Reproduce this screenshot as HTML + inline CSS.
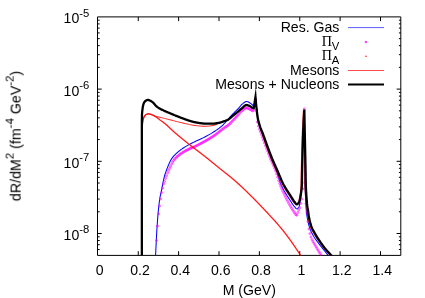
<!DOCTYPE html>
<html><head><meta charset="utf-8"><title>plot</title>
<style>
html,body{margin:0;padding:0;background:#fff;}
body{width:425px;height:298px;overflow:hidden;font-family:"Liberation Sans",sans-serif;}
svg{display:block;}
</style></head><body>
<svg width="425" height="298" viewBox="0 0 425 298">
<rect width="425" height="298" fill="#fff"/>
<defs><clipPath id="c"><rect x="97.5" y="16.9" width="303.3" height="238.5"/></clipPath><filter id="gs" filterUnits="userSpaceOnUse" x="0" y="0" width="425" height="298" color-interpolation-filters="sRGB"><feColorMatrix type="saturate" values="0"/></filter></defs>
<path d="M97.5,16.9 H400.8 V255.4 H97.5 Z" fill="none" stroke="#000" stroke-width="1"/>
<path d="M138.25,255.4 v-4.2 M138.25,16.9 v4.2 M178.62,255.4 v-4.2 M178.62,16.9 v4.2 M219.00,255.4 v-4.2 M219.00,16.9 v4.2 M259.38,255.4 v-4.2 M259.38,16.9 v4.2 M299.75,255.4 v-4.2 M299.75,16.9 v4.2 M340.12,255.4 v-4.2 M340.12,16.9 v4.2 M380.50,255.4 v-4.2 M380.50,16.9 v4.2 M97.5,67.37 h2.2 M400.8,67.37 h-1.9 M97.5,54.65 h2.2 M400.8,54.65 h-1.9 M97.5,45.63 h2.2 M400.8,45.63 h-1.9 M97.5,38.63 h2.2 M400.8,38.63 h-1.9 M97.5,32.92 h2.2 M400.8,32.92 h-1.9 M97.5,28.08 h2.2 M400.8,28.08 h-1.9 M97.5,23.90 h2.2 M400.8,23.90 h-1.9 M97.5,20.20 h2.2 M400.8,20.20 h-1.9 M97.5,89.10 h4.2 M400.8,89.10 h-4.2 M97.5,139.57 h2.2 M400.8,139.57 h-1.9 M97.5,126.85 h2.2 M400.8,126.85 h-1.9 M97.5,117.83 h2.2 M400.8,117.83 h-1.9 M97.5,110.83 h2.2 M400.8,110.83 h-1.9 M97.5,105.12 h2.2 M400.8,105.12 h-1.9 M97.5,100.28 h2.2 M400.8,100.28 h-1.9 M97.5,96.10 h2.2 M400.8,96.10 h-1.9 M97.5,92.40 h2.2 M400.8,92.40 h-1.9 M97.5,161.30 h4.2 M400.8,161.30 h-4.2 M97.5,211.77 h2.2 M400.8,211.77 h-1.9 M97.5,199.05 h2.2 M400.8,199.05 h-1.9 M97.5,190.03 h2.2 M400.8,190.03 h-1.9 M97.5,183.03 h2.2 M400.8,183.03 h-1.9 M97.5,177.32 h2.2 M400.8,177.32 h-1.9 M97.5,172.48 h2.2 M400.8,172.48 h-1.9 M97.5,168.30 h2.2 M400.8,168.30 h-1.9 M97.5,164.60 h2.2 M400.8,164.60 h-1.9 M97.5,233.50 h4.2 M400.8,233.50 h-4.2 M97.5,249.52 h2.2 M400.8,249.52 h-1.9 M97.5,244.68 h2.2 M400.8,244.68 h-1.9 M97.5,240.50 h2.2 M400.8,240.50 h-1.9 M97.5,236.80 h2.2 M400.8,236.80 h-1.9" fill="none" stroke="#000" stroke-width="1"/>
<g clip-path="url(#c)"><path d="M155.50,257.00 L155.52,256.50 L155.55,256.00 L155.57,255.50 L155.60,255.00 L155.63,254.50 L155.65,253.99 L155.68,253.49 L155.70,252.99 L155.72,252.49 L155.75,251.99 L155.77,251.49 L155.80,250.99 L155.82,250.49 L155.85,249.99 L155.87,249.49 L155.89,248.98 L155.92,248.48 L155.94,247.98 L155.96,247.48 L155.99,246.98 L156.01,246.48 L156.03,245.98 L156.06,245.48 L156.08,244.98 L156.10,244.48 L156.13,243.97 L156.15,243.47 L156.18,242.97 L156.20,242.47 L156.22,241.97 L156.25,241.47 L156.27,240.97 L156.30,240.47 L156.32,239.97 L156.35,239.46 L156.37,238.96 L156.40,238.46 L156.42,237.96 L156.45,237.46 L156.47,236.96 L156.50,236.46 L156.52,235.96 L156.55,235.46 L156.58,234.96 L156.60,234.46 L156.63,233.96 L156.66,233.45 L156.69,232.95 L156.72,232.45 L156.74,231.95 L156.77,231.45 L156.80,230.95 L156.83,230.45 L156.86,229.95 L156.89,229.45 L156.93,228.95 L156.96,228.45 L156.99,227.95 L157.02,227.45 L157.06,226.95 L157.09,226.45 L157.12,225.95 L157.16,225.45 L157.19,224.95 L157.23,224.45 L157.26,223.95 L157.30,223.45 L157.33,222.95 L157.37,222.45 L157.41,221.95 L157.44,221.45 L157.48,220.94 L157.52,220.44 L157.55,219.94 L157.59,219.44 L157.63,218.94 L157.67,218.44 L157.71,217.94 L157.75,217.44 L157.79,216.94 L157.83,216.43 L157.87,215.93 L157.91,215.43 L157.96,214.93 L158.00,214.43 L158.04,213.93 L158.09,213.43 L158.13,212.93 L158.18,212.43 L158.22,211.93 L158.27,211.43 L158.32,210.93 L158.37,210.43 L158.42,209.93 L158.47,209.43 L158.52,208.93 L158.57,208.43 L158.62,207.93 L158.67,207.43 L158.73,206.93 L158.78,206.43 L158.84,205.94 L158.90,205.44 L158.95,204.94 L159.01,204.44 L159.07,203.94 L159.13,203.45 L159.19,202.95 L159.26,202.45 L159.32,201.96 L159.38,201.46 L159.45,200.97 L159.52,200.47 L159.59,199.98 L159.66,199.48 L159.73,198.99 L159.80,198.49 L159.87,198.00 L159.95,197.51 L160.03,197.01 L160.13,196.52 L160.24,196.03 L160.35,195.55 L160.47,195.06 L160.59,194.57 L160.71,194.08 L160.83,193.59 L160.94,193.10 L161.05,192.61 L161.16,192.12 L161.26,191.63 L161.36,191.14 L161.46,190.65 L161.56,190.16 L161.66,189.66 L161.75,189.17 L161.85,188.68 L161.94,188.18 L162.04,187.69 L162.13,187.19 L162.22,186.70 L162.31,186.20 L162.40,185.71 L162.50,185.22 L162.59,184.72 L162.68,184.23 L162.78,183.73 L162.87,183.24 L162.97,182.75 L163.06,182.26 L163.16,181.76 L163.26,181.27 L163.37,180.78 L163.47,180.29 L163.58,179.80 L163.69,179.31 L163.80,178.83 L163.91,178.34 L164.03,177.85 L164.15,177.37 L164.27,176.89 L164.40,176.41 L164.53,175.92 L164.67,175.44 L164.81,174.96 L164.96,174.49 L165.11,174.01 L165.26,173.53 L165.42,173.05 L165.59,172.58 L165.76,172.10 L165.93,171.63 L166.10,171.16 L166.28,170.69 L166.45,170.22 L166.63,169.75 L166.82,169.28 L167.00,168.81 L167.18,168.35 L167.37,167.88 L167.55,167.42 L167.74,166.95 L167.93,166.48 L168.11,166.01 L168.30,165.54 L168.50,165.06 L168.69,164.59 L168.89,164.12 L169.09,163.65 L169.29,163.19 L169.50,162.72 L169.71,162.27 L169.93,161.81 L170.15,161.36 L170.38,160.91 L170.61,160.47 L170.85,160.04 L171.09,159.62 L171.35,159.20 L171.61,158.79 L171.88,158.39 L172.16,157.99 L172.45,157.59 L172.76,157.20 L173.08,156.81 L173.40,156.43 L173.74,156.05 L174.08,155.68 L174.43,155.31 L174.78,154.94 L175.15,154.58 L175.51,154.22 L175.88,153.87 L176.26,153.52 L176.63,153.17 L177.01,152.84 L177.39,152.50 L177.76,152.17 L178.14,151.85 L178.52,151.53 L178.90,151.22 L179.29,150.91 L179.68,150.60 L180.07,150.30 L180.47,150.00 L180.88,149.70 L181.29,149.41 L181.70,149.12 L182.11,148.83 L182.53,148.55 L182.95,148.27 L183.38,147.99 L183.80,147.72 L184.23,147.44 L184.66,147.17 L185.08,146.91 L185.51,146.64 L185.95,146.38 L186.38,146.12 L186.81,145.87 L187.24,145.61 L187.67,145.36 L188.10,145.11 L188.54,144.87 L188.98,144.62 L189.42,144.39 L189.86,144.15 L190.30,143.92 L190.75,143.69 L191.20,143.46 L191.65,143.24 L192.10,143.01 L192.55,142.79 L193.00,142.57 L193.45,142.35 L193.90,142.13 L194.35,141.91 L194.81,141.69 L195.26,141.47 L195.71,141.25 L196.16,141.03 L196.61,140.82 L197.07,140.61 L197.52,140.40 L197.98,140.19 L198.44,139.98 L198.89,139.77 L199.35,139.57 L199.81,139.36 L200.27,139.15 L200.72,138.95 L201.18,138.74 L201.64,138.53 L202.09,138.32 L202.55,138.11 L203.00,137.89 L203.45,137.68 L203.90,137.45 L204.35,137.23 L204.79,137.00 L205.24,136.77 L205.68,136.54 L206.13,136.31 L206.57,136.07 L207.01,135.83 L207.45,135.59 L207.89,135.35 L208.33,135.11 L208.77,134.86 L209.21,134.62 L209.65,134.37 L210.08,134.12 L210.51,133.86 L210.95,133.61 L211.38,133.35 L211.81,133.09 L212.24,132.83 L212.66,132.57 L213.09,132.31 L213.51,132.04 L213.94,131.77 L214.35,131.50 L214.77,131.23 L215.19,130.95 L215.61,130.68 L216.03,130.40 L216.45,130.12 L216.87,129.83 L217.28,129.54 L217.69,129.26 L218.10,128.96 L218.51,128.67 L218.92,128.37 L219.32,128.07 L219.72,127.76 L220.11,127.45 L220.50,127.14 L220.89,126.82 L221.27,126.50 L221.64,126.18 L222.01,125.84 L222.38,125.50 L222.73,125.14 L223.09,124.79 L223.44,124.42 L223.78,124.06 L224.13,123.69 L224.47,123.33 L224.81,122.95 L225.14,122.58 L225.46,122.20 L225.79,121.82 L226.11,121.43 L226.43,121.05 L226.75,120.66 L227.07,120.27 L227.40,119.89 L227.73,119.51 L228.06,119.14 L228.39,118.76 L228.73,118.39 L229.06,118.02 L229.40,117.64 L229.74,117.27 L230.08,116.90 L230.42,116.54 L230.76,116.17 L231.10,115.80 L231.44,115.44 L231.79,115.07 L232.13,114.71 L232.48,114.34 L232.83,113.98 L233.17,113.62 L233.52,113.26 L233.88,112.91 L234.23,112.55 L234.59,112.20 L234.94,111.85 L235.30,111.49 L235.66,111.14 L236.02,110.79 L236.38,110.44 L236.74,110.09 L237.09,109.74 L237.45,109.38 L237.80,109.03 L238.15,108.67 L238.50,108.30 L238.84,107.94 L239.17,107.55 L239.50,107.17 L239.82,106.77 L240.14,106.38 L240.47,105.99 L240.79,105.60 L241.13,105.22 L241.47,104.86 L241.81,104.50 L242.18,104.17 L242.55,103.86 L242.94,103.54 L243.35,103.20 L243.77,102.85 L244.20,102.51 L244.63,102.20 L245.08,101.93 L245.53,101.71 L245.98,101.57 L246.42,101.50 L246.88,101.53 L247.34,101.64 L247.82,101.81 L248.29,102.02 L248.77,102.27 L249.23,102.54 L249.67,102.81 L250.10,103.06 L250.51,103.33 L250.92,103.62 L251.32,103.93 L251.71,104.27 L252.09,104.61 L252.45,104.98 L252.78,105.34 L253.10,105.72 L253.39,106.13 L253.65,106.55 L253.90,107.00 L255.50,97.50 L255.54,98.00 L255.58,98.50 L255.63,99.00 L255.67,99.50 L255.72,100.00 L255.76,100.50 L255.81,101.00 L255.86,101.50 L255.91,102.00 L255.96,102.50 L256.01,103.00 L256.06,103.50 L256.12,104.00 L256.17,104.50 L256.22,105.00 L256.28,105.50 L256.34,105.99 L256.39,106.49 L256.45,106.99 L256.51,107.49 L256.57,107.99 L256.63,108.49 L256.69,108.98 L256.75,109.48 L256.81,109.98 L256.87,110.48 L256.93,110.98 L257.00,111.47 L257.06,111.97 L257.12,112.47 L257.19,112.97 L257.25,113.47 L257.32,113.97 L257.39,114.47 L257.46,114.96 L257.54,115.46 L257.61,115.96 L257.69,116.45 L257.78,116.95 L257.86,117.44 L257.95,117.93 L258.04,118.42 L258.14,118.91 L258.25,119.40 L258.36,119.89 L258.48,120.37 L258.61,120.86 L258.74,121.34 L258.87,121.83 L259.01,122.31 L259.15,122.80 L259.29,123.28 L259.44,123.76 L259.58,124.24 L259.72,124.73 L259.87,125.21 L260.01,125.69 L260.15,126.17 L260.29,126.66 L260.42,127.14 L260.56,127.62 L260.70,128.11 L260.84,128.59 L260.97,129.07 L261.11,129.55 L261.25,130.04 L261.39,130.52 L261.53,131.00 L261.68,131.48 L261.82,131.96 L261.96,132.44 L262.11,132.92 L262.26,133.40 L262.41,133.88 L262.56,134.36 L262.71,134.84 L262.86,135.32 L263.02,135.79 L263.18,136.27 L263.33,136.75 L263.49,137.22 L263.66,137.70 L263.82,138.17 L263.98,138.65 L264.15,139.12 L264.31,139.59 L264.48,140.07 L264.65,140.54 L264.81,141.01 L264.98,141.49 L265.15,141.96 L265.32,142.43 L265.49,142.91 L265.66,143.38 L265.83,143.85 L266.00,144.32 L266.17,144.80 L266.34,145.27 L266.51,145.74 L266.68,146.21 L266.84,146.69 L267.01,147.16 L267.18,147.63 L267.35,148.10 L267.52,148.58 L267.69,149.05 L267.86,149.52 L268.03,150.00 L268.20,150.47 L268.37,150.94 L268.54,151.41 L268.71,151.88 L268.88,152.36 L269.05,152.83 L269.23,153.30 L269.40,153.77 L269.57,154.24 L269.75,154.71 L269.93,155.18 L270.10,155.65 L270.28,156.12 L270.46,156.59 L270.64,157.06 L270.82,157.53 L271.00,157.99 L271.18,158.46 L271.37,158.93 L271.55,159.39 L271.74,159.86 L271.93,160.32 L272.13,160.79 L272.32,161.25 L272.52,161.71 L272.71,162.17 L272.91,162.64 L273.11,163.10 L273.30,163.56 L273.50,164.02 L273.70,164.48 L273.90,164.94 L274.10,165.41 L274.29,165.87 L274.49,166.33 L274.68,166.79 L274.88,167.26 L275.07,167.72 L275.26,168.18 L275.45,168.65 L275.64,169.11 L275.83,169.58 L276.01,170.05 L276.19,170.51 L276.37,170.98 L276.54,171.45 L276.72,171.92 L276.88,172.40 L277.05,172.87 L277.21,173.35 L277.37,173.83 L277.53,174.31 L277.69,174.79 L277.84,175.27 L278.00,175.75 L278.15,176.23 L278.31,176.71 L278.46,177.19 L278.61,177.67 L278.77,178.15 L278.92,178.63 L279.08,179.11 L279.23,179.59 L279.39,180.07 L279.55,180.54 L279.71,181.02 L279.88,181.49 L280.04,181.97 L280.21,182.44 L280.39,182.90 L280.57,183.37 L280.75,183.83 L280.93,184.29 L281.12,184.75 L281.32,185.21 L281.52,185.66 L281.72,186.11 L281.93,186.56 L282.14,187.01 L282.36,187.46 L282.58,187.91 L282.81,188.35 L283.04,188.79 L283.27,189.24 L283.51,189.68 L283.75,190.12 L283.99,190.56 L284.24,190.99 L284.49,191.43 L284.74,191.87 L285.00,192.30 L285.26,192.73 L285.52,193.17 L285.78,193.60 L286.04,194.03 L286.31,194.46 L286.58,194.89 L286.84,195.32 L287.12,195.74 L287.39,196.17 L287.66,196.60 L287.93,197.02 L288.21,197.45 L288.48,197.87 L288.76,198.29 L289.04,198.71 L289.31,199.14 L289.59,199.56 L289.87,199.98 L290.14,200.40 L290.42,200.82 L290.69,201.24 L290.97,201.66 L291.24,202.08 L291.52,202.50 L291.79,202.92 L292.07,203.34 L292.35,203.76 L292.64,204.18 L292.93,204.59 L293.22,205.00 L293.52,205.40 L293.83,205.80 L294.14,206.18 L294.47,206.56 L294.80,206.96 L295.15,207.42 L295.52,207.88 L295.89,208.30 L296.26,208.64 L296.63,208.85 L297.00,208.89 L297.41,208.73 L297.83,208.41 L298.24,207.99 L298.60,207.53 L298.86,207.09 L299.03,206.69 L299.18,206.26 L299.31,205.81 L299.44,205.34 L299.55,204.86 L299.65,204.36 L299.75,203.85 L299.84,203.33 L299.92,202.81 L299.99,202.29 L300.06,201.76 L300.13,201.24 L300.20,200.73 L300.27,200.22 L300.34,199.73 L300.41,199.23 L300.48,198.73 L300.54,198.24 L300.61,197.74 L300.68,197.24 L300.75,196.75 L300.81,196.25 L300.88,195.75 L300.94,195.25 L301.00,194.75 L301.06,194.25 L301.12,193.75 L301.18,193.25 L301.24,192.75 L301.30,192.25 L301.35,191.75 L301.40,191.25 L301.45,190.75 L301.50,190.25 L301.55,189.75 L301.59,189.25 L301.63,188.75 L301.67,188.25 L301.71,187.75 L301.75,187.25 L301.78,186.75 L301.81,186.24 L301.83,185.74 L301.86,185.24 L301.88,184.74 L301.89,184.24 L301.91,183.74 L301.92,183.24 L301.93,182.74 L301.94,182.24 L301.95,181.74 L301.96,181.23 L301.97,180.73 L301.98,180.23 L301.99,179.73 L301.99,179.23 L302.00,178.72 L302.01,178.22 L302.02,177.72 L302.02,177.22 L302.03,176.72 L302.03,176.21 L302.04,175.71 L302.05,175.21 L302.05,174.71 L302.06,174.20 L302.07,173.70 L302.08,173.20 L302.09,172.70 L302.10,172.20 L302.11,171.69 L302.12,171.19 L302.13,170.69 L302.14,170.19 L302.15,169.69 L302.16,169.19 L302.17,168.68 L302.18,168.18 L302.19,167.68 L302.20,167.18 L302.21,166.68 L302.22,166.17 L302.23,165.67 L302.24,165.17 L302.26,164.67 L302.27,164.17 L302.28,163.67 L302.29,163.16 L302.30,162.66 L302.31,162.16 L302.33,161.66 L302.34,161.16 L302.35,160.65 L302.36,160.15 L302.37,159.65 L302.39,159.15 L302.40,158.65 L302.41,158.14 L302.42,157.64 L302.44,157.14 L302.45,156.64 L302.46,156.14 L302.48,155.64 L302.49,155.13 L302.50,154.63 L302.52,154.13 L302.53,153.63 L302.54,153.13 L302.56,152.63 L302.57,152.12 L302.58,151.62 L302.60,151.12 L302.61,150.62 L302.63,150.12 L302.64,149.61 L302.65,149.11 L302.67,148.61 L302.68,148.11 L302.70,147.61 L302.71,147.11 L302.73,146.60 L302.74,146.10 L302.76,145.60 L302.77,145.10 L302.79,144.60 L302.80,144.10 L302.82,143.59 L302.84,143.09 L302.85,142.59 L302.87,142.09 L302.88,141.59 L302.90,141.08 L302.92,140.58 L302.93,140.08 L302.95,139.58 L302.97,139.08 L302.98,138.58 L303.00,138.07 L303.02,137.57 L303.03,137.07 L303.05,136.57 L303.07,136.07 L303.09,135.57 L303.10,135.07 L303.12,134.56 L303.14,134.06 L303.16,133.56 L303.17,133.06 L303.19,132.56 L303.21,132.06 L303.23,131.55 L303.25,131.05 L303.27,130.55 L303.29,130.05 L303.31,129.55 L303.33,129.05 L303.35,128.55 L303.37,128.04 L303.39,127.54 L303.41,127.04 L303.43,126.54 L303.46,126.04 L303.48,125.54 L303.50,125.04 L303.53,124.53 L303.55,124.03 L303.57,123.53 L303.60,123.03 L303.62,122.53 L303.65,122.03 L303.67,121.53 L303.70,121.02 L303.72,120.52 L303.75,120.02 L303.78,119.52 L303.80,119.02 L303.83,118.52 L303.86,118.02 L303.88,117.52 L303.91,117.01 L303.94,116.51 L303.97,116.01 L303.99,115.51 L304.02,115.01 L304.05,114.51 L304.08,114.01 L304.11,113.51 L304.14,113.00 L304.16,112.50 L304.19,112.00 L304.22,111.50 L304.25,111.00 L304.35,111.00 L304.36,111.50 L304.36,112.00 L304.37,112.51 L304.38,113.01 L304.39,113.51 L304.39,114.01 L304.40,114.51 L304.41,115.01 L304.41,115.52 L304.42,116.02 L304.43,116.52 L304.43,117.02 L304.44,117.52 L304.45,118.02 L304.45,118.53 L304.46,119.03 L304.47,119.53 L304.47,120.03 L304.48,120.53 L304.49,121.03 L304.49,121.54 L304.50,122.04 L304.51,122.54 L304.51,123.04 L304.52,123.54 L304.52,124.04 L304.53,124.55 L304.54,125.05 L304.54,125.55 L304.55,126.05 L304.55,126.55 L304.56,127.06 L304.56,127.56 L304.57,128.06 L304.58,128.56 L304.58,129.06 L304.59,129.56 L304.59,130.07 L304.60,130.57 L304.60,131.07 L304.61,131.57 L304.61,132.07 L304.61,132.57 L304.62,133.08 L304.62,133.58 L304.63,134.08 L304.63,134.58 L304.64,135.08 L304.64,135.58 L304.65,136.09 L304.65,136.59 L304.65,137.09 L304.66,137.59 L304.66,138.09 L304.67,138.60 L304.67,139.10 L304.67,139.60 L304.68,140.10 L304.68,140.60 L304.69,141.10 L304.69,141.61 L304.69,142.11 L304.70,142.61 L304.70,143.11 L304.70,143.61 L304.71,144.11 L304.71,144.62 L304.71,145.12 L304.72,145.62 L304.72,146.12 L304.73,146.62 L304.73,147.12 L304.73,147.63 L304.74,148.13 L304.74,148.63 L304.74,149.13 L304.75,149.63 L304.75,150.14 L304.75,150.64 L304.76,151.14 L304.76,151.64 L304.76,152.14 L304.77,152.64 L304.77,153.15 L304.77,153.65 L304.78,154.15 L304.78,154.65 L304.78,155.15 L304.79,155.65 L304.79,156.16 L304.79,156.66 L304.80,157.16 L304.80,157.66 L304.80,158.16 L304.81,158.67 L304.81,159.17 L304.81,159.67 L304.82,160.17 L304.82,160.67 L304.82,161.17 L304.83,161.68 L304.83,162.18 L304.83,162.68 L304.84,163.18 L304.84,163.68 L304.84,164.18 L304.85,164.69 L304.85,165.19 L304.85,165.69 L304.86,166.19 L304.86,166.69 L304.86,167.20 L304.87,167.70 L304.87,168.20 L304.87,168.70 L304.88,169.20 L304.88,169.70 L304.89,170.21 L304.89,170.71 L304.89,171.21 L304.90,171.71 L304.90,172.21 L304.91,172.71 L304.91,173.22 L304.91,173.72 L304.92,174.22 L304.92,174.72 L304.92,175.22 L304.93,175.73 L304.93,176.23 L304.93,176.73 L304.94,177.23 L304.94,177.73 L304.94,178.23 L304.95,178.74 L304.95,179.24 L304.95,179.74 L304.96,180.24 L304.96,180.74 L304.97,181.24 L304.97,181.75 L304.98,182.25 L304.98,182.75 L304.99,183.25 L305.00,183.75 L305.00,184.25 L305.01,184.76 L305.02,185.26 L305.03,185.76 L305.05,186.26 L305.06,186.76 L305.08,187.26 L305.10,187.76 L305.11,188.27 L305.13,188.77 L305.15,189.27 L305.18,189.77 L305.20,190.27 L305.22,190.77 L305.25,191.27 L305.27,191.78 L305.30,192.28 L305.32,192.78 L305.35,193.28 L305.37,193.78 L305.40,194.28 L305.42,194.78 L305.45,195.28 L305.48,195.79 L305.50,196.29 L305.53,196.79 L305.55,197.29 L305.58,197.79 L305.60,198.29 L305.63,198.79 L305.65,199.29 L305.68,199.80 L305.70,200.30 L305.72,200.80 L305.75,201.30 L305.77,201.80 L305.79,202.30 L305.82,202.81 L305.84,203.31 L305.87,203.81 L305.89,204.31 L305.92,204.81 L305.94,205.31 L305.97,205.82 L306.00,206.32 L306.03,206.82 L306.06,207.32 L306.09,207.82 L306.12,208.32 L306.15,208.82 L306.19,209.32 L306.22,209.82 L306.26,210.32 L306.30,210.82 L306.34,211.32 L306.38,211.82 L306.43,212.32 L306.48,212.81 L306.54,213.31 L306.61,213.81 L306.68,214.31 L306.75,214.80 L306.83,215.30 L306.91,215.80 L307.00,216.29 L307.08,216.79 L307.17,217.28 L307.26,217.77 L307.35,218.27 L307.44,218.76 L307.53,219.25 L307.63,219.75 L307.73,220.24 L307.83,220.74 L307.93,221.23 L308.04,221.73 L308.15,222.22 L308.26,222.71 L308.37,223.20 L308.49,223.69 L308.61,224.18 L308.73,224.67 L308.86,225.16 L308.99,225.64 L309.13,226.12 L309.27,226.60 L309.41,227.08 L309.56,227.55 L309.71,228.02 L309.87,228.49 L310.03,228.96 L310.21,229.42 L310.40,229.89 L310.59,230.35 L310.80,230.81 L311.01,231.27 L311.22,231.73 L311.44,232.19 L311.67,232.64 L311.90,233.09 L312.14,233.54 L312.38,233.98 L312.62,234.43 L312.86,234.87 L313.11,235.30 L313.35,235.74 L313.60,236.17 L313.85,236.60 L314.11,237.02 L314.37,237.45 L314.65,237.87 L314.92,238.28 L315.20,238.70 L315.49,239.11 L315.78,239.52 L316.07,239.93 L316.37,240.34 L316.67,240.74 L316.97,241.15 L317.27,241.55 L317.57,241.96 L317.88,242.36 L318.18,242.76 L318.49,243.16 L318.79,243.56 L319.10,243.96 L319.40,244.36 L319.70,244.76 L320.00,245.16 L320.31,245.56 L320.61,245.96 L320.92,246.35 L321.24,246.74 L321.55,247.14 L321.86,247.53 L322.18,247.92 L322.50,248.31 L322.81,248.70 L323.13,249.09 L323.45,249.47 L323.77,249.86 L324.09,250.25 L324.40,250.64 L324.72,251.03 L325.04,251.42 L325.35,251.81 L325.67,252.20 L325.98,252.59 L326.29,252.98 L326.61,253.38 L326.91,253.77 L327.22,254.17 L327.53,254.57 L327.83,254.97 L328.13,255.37 L328.42,255.78 L328.72,256.18 L329.01,256.59 L329.30,257.00" fill="none" stroke="#0000ff" stroke-width="1.05" stroke-linejoin="miter" stroke-miterlimit="10"/><g fill="#ff00ff" fill-opacity="0.4" stroke="#ff00ff" stroke-width="0.6" stroke-opacity="0.7"><circle cx="156.50" cy="240.50" r="1.1"/><circle cx="157.51" cy="226.05" r="1.1"/><circle cx="158.52" cy="213.81" r="1.1"/><circle cx="159.53" cy="206.01" r="1.1"/><circle cx="160.54" cy="198.95" r="1.1"/><circle cx="161.55" cy="192.55" r="1.1"/><circle cx="162.56" cy="188.14" r="1.1"/><circle cx="163.57" cy="183.89" r="1.1"/><circle cx="164.58" cy="181.47" r="1.1"/><circle cx="165.59" cy="178.44" r="1.1"/><circle cx="166.59" cy="175.70" r="1.1"/><circle cx="167.61" cy="172.90" r="1.1"/><circle cx="168.61" cy="170.60" r="1.1"/><circle cx="169.63" cy="168.47" r="1.1"/><circle cx="170.64" cy="166.33" r="1.1"/><circle cx="171.65" cy="164.08" r="1.1"/><circle cx="172.65" cy="162.07" r="1.1"/><circle cx="173.66" cy="160.47" r="1.1"/><circle cx="174.67" cy="159.20" r="1.1"/><circle cx="175.68" cy="158.10" r="1.1"/><circle cx="176.69" cy="157.13" r="1.1"/><circle cx="177.70" cy="156.22" r="1.1"/><circle cx="178.72" cy="155.38" r="1.1"/><circle cx="179.72" cy="154.59" r="1.1"/><circle cx="180.73" cy="153.83" r="1.1"/><circle cx="181.74" cy="153.14" r="1.1"/><circle cx="182.75" cy="152.48" r="1.1"/><circle cx="183.76" cy="151.86" r="1.1"/><circle cx="184.77" cy="151.26" r="1.1"/><circle cx="185.78" cy="150.70" r="1.1"/><circle cx="186.79" cy="150.16" r="1.1"/><circle cx="187.80" cy="149.64" r="1.1"/><circle cx="188.81" cy="149.14" r="1.1"/><circle cx="189.81" cy="148.65" r="1.1"/><circle cx="190.82" cy="148.21" r="1.1"/><circle cx="191.83" cy="147.80" r="1.1"/><circle cx="192.84" cy="147.40" r="1.1"/><circle cx="193.85" cy="146.99" r="1.1"/><circle cx="194.86" cy="146.53" r="1.1"/><circle cx="195.87" cy="146.05" r="1.1"/><circle cx="196.88" cy="145.56" r="1.1"/><circle cx="197.89" cy="145.05" r="1.1"/><circle cx="198.91" cy="144.52" r="1.1"/><circle cx="199.91" cy="143.99" r="1.1"/><circle cx="200.92" cy="143.45" r="1.1"/><circle cx="201.93" cy="142.90" r="1.1"/><circle cx="202.93" cy="142.34" r="1.1"/><circle cx="203.95" cy="141.78" r="1.1"/><circle cx="204.95" cy="141.21" r="1.1"/><circle cx="205.96" cy="140.64" r="1.1"/><circle cx="206.97" cy="140.06" r="1.1"/><circle cx="207.98" cy="139.48" r="1.1"/><circle cx="209.00" cy="138.88" r="1.1"/><circle cx="210.00" cy="138.28" r="1.1"/><circle cx="211.01" cy="137.66" r="1.1"/><circle cx="212.03" cy="137.02" r="1.1"/><circle cx="213.03" cy="136.38" r="1.1"/><circle cx="214.04" cy="135.71" r="1.1"/><circle cx="215.05" cy="135.01" r="1.1"/><circle cx="216.06" cy="134.27" r="1.1"/><circle cx="217.07" cy="133.51" r="1.1"/><circle cx="218.08" cy="132.73" r="1.1"/><circle cx="219.08" cy="131.93" r="1.1"/><circle cx="220.10" cy="131.11" r="1.1"/><circle cx="221.11" cy="130.31" r="1.1"/><circle cx="222.11" cy="129.52" r="1.1"/><circle cx="223.13" cy="128.74" r="1.1"/><circle cx="224.13" cy="127.99" r="1.1"/><circle cx="225.15" cy="127.29" r="1.1"/><circle cx="226.15" cy="126.64" r="1.1"/><circle cx="227.16" cy="125.98" r="1.1"/><circle cx="228.17" cy="125.26" r="1.1"/><circle cx="229.18" cy="124.42" r="1.1"/><circle cx="230.19" cy="123.45" r="1.1"/><circle cx="231.20" cy="122.40" r="1.1"/><circle cx="232.21" cy="121.32" r="1.1"/><circle cx="233.22" cy="120.26" r="1.1"/><circle cx="234.23" cy="119.18" r="1.1"/><circle cx="235.23" cy="118.08" r="1.1"/><circle cx="236.24" cy="116.97" r="1.1"/><circle cx="237.26" cy="115.87" r="1.1"/><circle cx="238.27" cy="114.73" r="1.1"/><circle cx="239.27" cy="113.52" r="1.1"/><circle cx="240.28" cy="112.34" r="1.1"/><circle cx="241.29" cy="111.29" r="1.1"/><circle cx="242.31" cy="110.42" r="1.1"/><circle cx="243.31" cy="109.60" r="1.1"/><circle cx="244.32" cy="108.84" r="1.1"/><circle cx="245.33" cy="108.27" r="1.1"/><circle cx="246.35" cy="108.01" r="1.1"/><circle cx="247.35" cy="108.13" r="1.1"/><circle cx="248.37" cy="108.52" r="1.1"/><circle cx="249.37" cy="109.00" r="1.1"/><circle cx="250.38" cy="109.49" r="1.1"/><circle cx="251.39" cy="110.14" r="1.1"/><circle cx="252.40" cy="110.74" r="1.1"/><circle cx="253.40" cy="110.75" r="1.1"/><circle cx="255.50" cy="99.50" r="1.1"/><circle cx="255.50" cy="99.50" r="1.1"/><circle cx="256.43" cy="110.50" r="1.1"/><circle cx="257.44" cy="122.20" r="1.1"/><circle cx="258.45" cy="126.15" r="1.1"/><circle cx="259.46" cy="129.32" r="1.1"/><circle cx="260.47" cy="131.90" r="1.1"/><circle cx="261.48" cy="134.57" r="1.1"/><circle cx="262.49" cy="137.38" r="1.1"/><circle cx="263.50" cy="140.21" r="1.1"/><circle cx="264.51" cy="143.02" r="1.1"/><circle cx="265.52" cy="145.78" r="1.1"/><circle cx="266.53" cy="148.48" r="1.1"/><circle cx="267.54" cy="151.16" r="1.1"/><circle cx="268.55" cy="153.80" r="1.1"/><circle cx="269.56" cy="156.39" r="1.1"/><circle cx="270.56" cy="158.89" r="1.1"/><circle cx="271.58" cy="161.26" r="1.1"/><circle cx="272.58" cy="163.54" r="1.1"/><circle cx="273.59" cy="165.83" r="1.1"/><circle cx="274.60" cy="168.23" r="1.1"/><circle cx="275.61" cy="170.83" r="1.1"/><circle cx="276.62" cy="173.85" r="1.1"/><circle cx="277.63" cy="177.21" r="1.1"/><circle cx="278.64" cy="180.59" r="1.1"/><circle cx="279.65" cy="183.59" r="1.1"/><circle cx="280.66" cy="186.21" r="1.1"/><circle cx="281.67" cy="188.67" r="1.1"/><circle cx="282.68" cy="190.98" r="1.1"/><circle cx="283.69" cy="193.19" r="1.1"/><circle cx="284.70" cy="195.32" r="1.1"/><circle cx="285.70" cy="197.37" r="1.1"/><circle cx="286.71" cy="199.37" r="1.1"/><circle cx="287.73" cy="201.33" r="1.1"/><circle cx="288.73" cy="203.24" r="1.1"/><circle cx="289.74" cy="205.05" r="1.1"/><circle cx="290.75" cy="206.76" r="1.1"/><circle cx="291.76" cy="208.42" r="1.1"/><circle cx="292.77" cy="210.04" r="1.1"/><circle cx="293.78" cy="211.62" r="1.1"/><circle cx="294.79" cy="213.16" r="1.1"/><circle cx="295.80" cy="214.65" r="1.1"/><circle cx="296.81" cy="215.22" r="1.1"/><circle cx="297.82" cy="212.50" r="1.1"/><circle cx="298.83" cy="210.00" r="1.1"/><circle cx="299.84" cy="207.70" r="1.1"/><circle cx="300.85" cy="203.38" r="1.1"/><circle cx="301.86" cy="199.18" r="1.1"/><circle cx="302.86" cy="188.93" r="1.1"/><circle cx="303.87" cy="123.02" r="1.1"/><circle cx="304.88" cy="182.83" r="1.1"/><circle cx="305.89" cy="203.68" r="1.1"/><circle cx="306.90" cy="213.02" r="1.1"/><circle cx="307.91" cy="221.48" r="1.1"/><circle cx="308.92" cy="228.99" r="1.1"/><circle cx="309.93" cy="233.54" r="1.1"/><circle cx="310.94" cy="236.94" r="1.1"/><circle cx="311.95" cy="239.51" r="1.1"/><circle cx="312.96" cy="241.47" r="1.1"/><circle cx="313.97" cy="243.22" r="1.1"/><circle cx="314.98" cy="244.94" r="1.1"/><circle cx="315.99" cy="246.71" r="1.1"/><circle cx="317.00" cy="248.45" r="1.1"/><circle cx="318.01" cy="250.15" r="1.1"/><circle cx="319.01" cy="251.80" r="1.1"/><circle cx="320.02" cy="253.38" r="1.1"/><circle cx="321.04" cy="254.89" r="1.1"/><circle cx="304.30" cy="108.90" r="1.1"/></g><path d="M142.30,126.50 L142.33,126.00 L142.37,125.50 L142.41,125.00 L142.45,124.50 L142.50,124.00 L142.55,123.50 L142.60,123.00 L142.66,122.50 L142.73,122.00 L142.80,121.50 L142.87,121.01 L142.96,120.52 L143.05,120.03 L143.17,119.54 L143.30,119.04 L143.45,118.55 L143.61,118.06 L143.79,117.59 L143.99,117.13 L144.20,116.69 L144.43,116.27 L144.71,115.84 L145.04,115.42 L145.40,115.04 L145.79,114.73 L146.19,114.50 L146.64,114.29 L147.13,114.10 L147.63,113.96 L148.13,113.90 L148.61,113.92 L149.11,113.98 L149.60,114.07 L150.10,114.19 L150.59,114.34 L151.08,114.49 L151.56,114.65 L152.03,114.81 L152.49,114.98 L152.94,115.18 L153.39,115.41 L153.83,115.65 L154.27,115.91 L154.70,116.17 L155.13,116.45 L155.56,116.72 L155.98,116.99 L156.40,117.26 L156.81,117.54 L157.22,117.83 L157.63,118.12 L158.03,118.43 L158.43,118.73 L158.83,119.04 L159.23,119.34 L159.63,119.65 L160.03,119.95 L160.43,120.25 L160.84,120.54 L161.24,120.84 L161.65,121.13 L162.06,121.43 L162.46,121.72 L162.87,122.02 L163.27,122.32 L163.67,122.62 L164.07,122.92 L164.46,123.23 L164.86,123.54 L165.25,123.86 L165.63,124.17 L166.01,124.50 L166.39,124.82 L166.77,125.16 L167.14,125.49 L167.51,125.83 L167.88,126.17 L168.25,126.51 L168.61,126.85 L168.98,127.20 L169.34,127.54 L169.70,127.89 L170.07,128.24 L170.43,128.58 L170.79,128.93 L171.16,129.28 L171.52,129.62 L171.89,129.97 L172.26,130.31 L172.62,130.65 L173.00,130.98 L173.37,131.32 L173.74,131.65 L174.12,131.98 L174.50,132.31 L174.88,132.64 L175.26,132.96 L175.64,133.29 L176.02,133.61 L176.40,133.94 L176.78,134.26 L177.17,134.59 L177.55,134.91 L177.93,135.23 L178.32,135.55 L178.70,135.88 L179.09,136.20 L179.47,136.52 L179.86,136.84 L180.25,137.16 L180.63,137.47 L181.02,137.79 L181.41,138.11 L181.80,138.43 L182.19,138.75 L182.58,139.06 L182.97,139.38 L183.36,139.69 L183.75,140.01 L184.14,140.32 L184.53,140.64 L184.92,140.95 L185.31,141.27 L185.70,141.58 L186.09,141.89 L186.49,142.21 L186.88,142.52 L187.27,142.83 L187.66,143.14 L188.05,143.46 L188.45,143.77 L188.84,144.08 L189.23,144.39 L189.63,144.70 L190.02,145.01 L190.41,145.33 L190.81,145.63 L191.20,145.94 L191.60,146.25 L191.99,146.56 L192.39,146.87 L192.79,147.17 L193.18,147.48 L193.58,147.78 L193.98,148.09 L194.38,148.39 L194.78,148.69 L195.18,149.00 L195.58,149.30 L195.98,149.60 L196.38,149.90 L196.78,150.20 L197.18,150.51 L197.58,150.81 L197.98,151.11 L198.38,151.41 L198.78,151.72 L199.18,152.02 L199.58,152.32 L199.98,152.62 L200.38,152.93 L200.78,153.23 L201.18,153.53 L201.57,153.84 L201.97,154.15 L202.37,154.45 L202.77,154.76 L203.16,155.07 L203.56,155.37 L203.95,155.68 L204.35,155.99 L204.74,156.30 L205.13,156.61 L205.52,156.93 L205.92,157.24 L206.31,157.55 L206.70,157.86 L207.09,158.18 L207.48,158.49 L207.87,158.80 L208.26,159.12 L208.65,159.43 L209.04,159.75 L209.43,160.06 L209.82,160.38 L210.21,160.70 L210.60,161.01 L210.99,161.33 L211.38,161.64 L211.77,161.96 L212.16,162.28 L212.55,162.59 L212.94,162.91 L213.32,163.23 L213.71,163.54 L214.10,163.86 L214.49,164.18 L214.88,164.50 L215.27,164.81 L215.66,165.13 L216.04,165.45 L216.43,165.76 L216.82,166.08 L217.21,166.40 L217.60,166.71 L217.99,167.03 L218.38,167.34 L218.77,167.66 L219.16,167.98 L219.55,168.29 L219.94,168.60 L220.33,168.92 L220.73,169.23 L221.12,169.54 L221.51,169.86 L221.90,170.17 L222.30,170.48 L222.69,170.79 L223.09,171.10 L223.48,171.41 L223.87,171.73 L224.27,172.04 L224.66,172.35 L225.05,172.66 L225.45,172.97 L225.84,173.28 L226.24,173.60 L226.63,173.91 L227.02,174.22 L227.42,174.53 L227.81,174.85 L228.20,175.16 L228.59,175.47 L228.98,175.79 L229.37,176.10 L229.76,176.42 L230.15,176.73 L230.54,177.05 L230.93,177.37 L231.32,177.69 L231.70,178.01 L232.09,178.33 L232.47,178.65 L232.86,178.97 L233.24,179.29 L233.62,179.61 L234.00,179.94 L234.38,180.26 L234.76,180.59 L235.14,180.92 L235.52,181.24 L235.89,181.57 L236.27,181.90 L236.64,182.24 L237.01,182.57 L237.38,182.90 L237.76,183.24 L238.13,183.57 L238.50,183.91 L238.87,184.25 L239.24,184.58 L239.61,184.92 L239.97,185.26 L240.34,185.60 L240.71,185.94 L241.08,186.28 L241.44,186.62 L241.81,186.96 L242.17,187.30 L242.54,187.64 L242.90,187.99 L243.27,188.33 L243.63,188.68 L244.00,189.02 L244.36,189.37 L244.72,189.71 L245.09,190.06 L245.45,190.40 L245.81,190.75 L246.17,191.10 L246.53,191.45 L246.89,191.80 L247.25,192.15 L247.61,192.50 L247.97,192.85 L248.33,193.20 L248.69,193.55 L249.04,193.90 L249.40,194.25 L249.76,194.61 L250.12,194.96 L250.47,195.31 L250.83,195.67 L251.18,196.02 L251.54,196.38 L251.89,196.73 L252.25,197.09 L252.60,197.44 L252.96,197.80 L253.31,198.16 L253.66,198.51 L254.02,198.87 L254.37,199.23 L254.72,199.59 L255.07,199.95 L255.43,200.31 L255.78,200.67 L256.13,201.03 L256.48,201.39 L256.83,201.75 L257.18,202.11 L257.53,202.47 L257.88,202.83 L258.23,203.19 L258.57,203.55 L258.92,203.91 L259.27,204.28 L259.62,204.64 L259.96,205.00 L260.31,205.37 L260.66,205.73 L261.01,206.09 L261.35,206.46 L261.70,206.82 L262.04,207.19 L262.39,207.55 L262.73,207.91 L263.08,208.28 L263.42,208.64 L263.77,209.01 L264.11,209.38 L264.45,209.74 L264.80,210.11 L265.14,210.47 L265.48,210.84 L265.83,211.21 L266.17,211.57 L266.51,211.94 L266.85,212.31 L267.19,212.67 L267.54,213.04 L267.88,213.41 L268.22,213.77 L268.56,214.14 L268.90,214.51 L269.24,214.88 L269.58,215.24 L269.92,215.61 L270.26,215.98 L270.60,216.35 L270.94,216.72 L271.28,217.08 L271.62,217.45 L271.96,217.82 L272.29,218.19 L272.63,218.56 L272.97,218.93 L273.31,219.30 L273.65,219.68 L273.98,220.05 L274.32,220.42 L274.66,220.79 L274.99,221.17 L275.33,221.54 L275.67,221.91 L276.00,222.29 L276.33,222.66 L276.67,223.04 L277.00,223.42 L277.33,223.79 L277.66,224.17 L277.99,224.55 L278.32,224.93 L278.65,225.31 L278.98,225.69 L279.31,226.07 L279.63,226.45 L279.96,226.83 L280.28,227.22 L280.61,227.60 L280.93,227.98 L281.25,228.37 L281.57,228.75 L281.89,229.14 L282.20,229.53 L282.52,229.92 L282.83,230.31 L283.15,230.70 L283.46,231.09 L283.77,231.48 L284.08,231.87 L284.38,232.26 L284.69,232.66 L285.00,233.05 L285.30,233.45 L285.61,233.84 L285.91,234.24 L286.22,234.64 L286.52,235.04 L286.82,235.44 L287.12,235.84 L287.42,236.24 L287.72,236.64 L288.02,237.04 L288.32,237.45 L288.62,237.85 L288.91,238.25 L289.21,238.66 L289.51,239.06 L289.80,239.47 L290.09,239.88 L290.39,240.28 L290.68,240.69 L290.97,241.10 L291.26,241.51 L291.55,241.92 L291.84,242.33 L292.13,242.74 L292.42,243.15 L292.71,243.57 L293.00,243.98 L293.28,244.39 L293.57,244.80 L293.85,245.22 L294.14,245.63 L294.42,246.05 L294.70,246.46 L294.98,246.88 L295.27,247.30 L295.55,247.71 L295.83,248.13 L296.10,248.55 L296.38,248.96 L296.66,249.38 L296.94,249.80 L297.21,250.22 L297.49,250.64 L297.76,251.06 L298.04,251.48 L298.31,251.90 L298.58,252.32 L298.86,252.74 L299.13,253.16 L299.40,253.59 L299.67,254.01 L299.94,254.43 L300.21,254.85 L300.47,255.28 L300.73,255.70 L300.99,256.14 L301.25,256.57 L301.50,257.00" fill="none" stroke="#ff0000" stroke-width="1.3" stroke-opacity="0.9" stroke-linejoin="round"/><path d="M141.90,257.00 L141.90,255.64 L141.90,254.28 L141.90,252.92 L141.90,251.57 L141.90,250.23 L141.90,248.89 L141.90,247.56 L141.90,246.23 L141.90,244.91 L141.90,243.59 L141.90,242.28 L141.90,240.98 L141.90,239.67 L141.90,238.38 L141.90,237.08 L141.90,235.80 L141.90,234.52 L141.90,233.24 L141.90,231.97 L141.90,230.70 L141.90,229.44 L141.90,228.18 L141.90,226.92 L141.90,225.68 L141.90,224.43 L141.90,223.19 L141.90,221.96 L141.90,220.73 L141.90,219.50 L141.90,218.28 L141.90,217.07 L141.90,215.85 L141.90,214.65 L141.90,213.44 L141.90,212.24 L141.90,211.05 L141.90,209.86 L141.90,208.67 L141.90,207.49 L141.90,206.31 L141.90,205.14 L141.90,203.97 L141.90,202.81 L141.90,201.65 L141.90,200.49 L141.90,199.34 L141.90,198.19 L141.90,197.04 L141.90,195.90 L141.90,194.77 L141.90,193.63 L141.90,192.50 L141.90,191.38 L141.90,190.26 L141.90,189.14 L141.90,188.02 L141.90,186.91 L141.90,185.81 L141.90,184.70 L141.90,183.60 L141.90,182.51 L141.90,181.42 L141.90,180.33 L141.90,179.24 L141.90,178.16 L141.90,177.08 L141.90,176.01 L141.90,174.93 L141.90,173.87 L141.90,172.80 L141.90,171.74 L141.90,170.68 L141.90,169.62 L141.90,168.57 L141.90,167.52 L141.90,166.48 L141.90,165.43 L141.90,164.39 L141.90,163.36 L141.90,162.32 L141.90,161.29 L141.90,160.26 L141.90,159.24 L141.90,158.22 L141.90,157.20 L141.90,156.18 L141.90,155.17 L141.90,154.16 L141.90,153.15 L141.90,152.14 L141.90,151.14 L141.90,150.14 L141.90,149.14 L141.90,148.15 L141.90,147.15 L141.90,146.16 L141.90,145.18 L141.90,144.19 L141.90,143.21 L141.90,142.23 L141.90,141.25 L141.90,140.27 L141.90,139.30 L141.90,138.33 L141.90,137.36 L141.90,136.39 L141.90,135.43 L141.90,134.47 L141.90,133.51 L141.90,132.55 L141.90,131.59 L141.90,130.64 L141.90,129.68 L141.90,128.73 L141.90,127.79 L141.98,126.85 L142.38,125.88 L142.45,124.73 L142.54,123.59 L142.67,122.47 L142.82,121.36 L143.01,120.26 L143.27,119.16 L143.61,118.06 L144.04,117.02 L144.56,116.06 L145.30,115.14 L146.17,114.51 L147.23,114.07 L148.34,113.90 L149.44,114.04 L150.54,114.34 L151.63,114.68 L152.68,115.05 L153.71,115.52 L154.73,116.02 L155.76,116.43 L156.84,116.70 L157.95,116.90 L159.06,117.11 L160.15,117.36 L161.25,117.61 L162.34,117.87 L163.43,118.13 L164.52,118.40 L165.61,118.68 L166.69,118.95 L167.78,119.23 L168.87,119.51 L169.96,119.79 L171.05,120.06 L172.13,120.34 L173.22,120.62 L174.31,120.90 L175.39,121.19 L176.48,121.47 L177.57,121.75 L178.65,122.02 L179.74,122.29 L180.84,122.55 L181.93,122.81 L183.02,123.07 L184.11,123.33 L185.21,123.58 L186.30,123.83 L187.40,124.08 L188.50,124.31 L189.59,124.54 L190.69,124.76 L191.80,124.96 L192.90,125.16 L194.01,125.35 L195.12,125.53 L196.23,125.67 L197.35,125.79 L198.46,125.90 L199.58,126.01 L200.70,126.11 L201.82,126.19 L202.94,126.26 L204.07,126.29 L205.18,126.30 L206.31,126.26 L207.43,126.19 L208.56,126.09 L209.68,125.97 L210.80,125.83 L211.90,125.67 L212.99,125.50 L214.07,125.23 L215.15,124.88 L216.21,124.49 L217.27,124.08 L218.31,123.68 L219.35,123.26 L220.38,122.81 L221.39,122.33 L222.40,121.83 L223.40,121.30 L224.31,121.19 L224.79,121.02 L225.27,120.85 L225.74,120.67 L226.21,120.48 L226.68,120.29 L227.13,120.09 L227.58,119.87 L228.01,119.65 L228.44,119.40 L228.85,119.14 L229.25,118.85 L229.64,118.55 L230.03,118.23 L230.42,117.90 L230.80,117.56 L231.18,117.22 L231.55,116.88 L231.93,116.54 L232.32,116.20 L232.70,115.88 L233.09,115.56 L233.48,115.25 L233.87,114.94 L234.26,114.62 L234.66,114.31 L235.05,113.99 L235.44,113.68 L235.83,113.37 L236.22,113.05 L236.61,112.73 L237.00,112.42 L237.38,112.10 L237.77,111.78 L238.15,111.45 L238.53,111.12 L238.91,110.79 L239.29,110.46 L239.66,110.13 L240.04,109.80 L240.42,109.47 L240.80,109.14 L241.18,108.82 L241.57,108.50 L241.96,108.19 L242.35,107.88 L242.75,107.53 L243.14,107.16 L243.54,106.77 L243.94,106.39 L244.34,106.02 L244.75,105.69 L245.16,105.40 L245.58,105.18 L246.01,105.04 L246.44,105.00 L246.90,105.04 L247.37,105.14 L247.86,105.28 L248.35,105.46 L248.85,105.67 L249.33,105.88 L249.79,106.10 L250.23,106.32 L250.65,106.59 L251.05,106.90 L251.45,107.22 L251.87,107.51 L252.30,107.75 L252.75,107.95 L253.22,108.14 L253.70,108.30 L255.50,97.00 L255.54,97.50 L255.57,98.00 L255.61,98.50 L255.65,99.00 L255.69,99.50 L255.73,100.01 L255.77,100.51 L255.82,101.01 L255.86,101.51 L255.90,102.01 L255.95,102.51 L256.00,103.01 L256.04,103.51 L256.09,104.01 L256.14,104.51 L256.19,105.00 L256.24,105.50 L256.29,106.00 L256.34,106.50 L256.40,107.00 L256.45,107.50 L256.50,108.00 L256.56,108.50 L256.61,109.00 L256.67,109.50 L256.72,110.00 L256.78,110.49 L256.83,110.99 L256.89,111.49 L256.95,111.99 L257.00,112.49 L257.06,112.99 L257.12,113.49 L257.18,113.99 L257.24,114.49 L257.31,114.99 L257.38,115.49 L257.45,115.98 L257.52,116.48 L257.60,116.98 L257.67,117.47 L257.76,117.96 L257.85,118.45 L257.94,118.94 L258.04,119.43 L258.13,119.94 L258.22,120.44 L258.32,120.94 L258.42,121.44 L258.52,121.94 L258.63,122.44 L258.75,122.93 L258.87,123.43 L258.99,123.93 L259.11,124.42 L259.24,124.91 L259.37,125.41 L259.50,125.90 L259.63,126.39 L259.76,126.88 L259.89,127.36 L260.04,127.85 L260.19,128.33 L260.34,128.81 L260.51,129.29 L260.67,129.77 L260.84,130.25 L261.01,130.72 L261.18,131.20 L261.35,131.68 L261.53,132.15 L261.70,132.63 L261.86,133.11 L262.03,133.59 L262.18,134.07 L262.34,134.55 L262.49,135.03 L262.64,135.52 L262.80,136.00 L262.95,136.48 L263.09,136.97 L263.24,137.45 L263.39,137.94 L263.54,138.42 L263.68,138.91 L263.85,139.38 L264.02,139.86 L264.18,140.33 L264.35,140.80 L264.52,141.28 L264.69,141.75 L264.85,142.22 L265.02,142.70 L265.19,143.17 L265.36,143.64 L265.53,144.11 L265.70,144.59 L265.87,145.06 L266.04,145.53 L266.22,146.00 L266.39,146.47 L266.56,146.94 L266.74,147.41 L266.91,147.88 L267.09,148.35 L267.26,148.82 L267.44,149.30 L267.62,149.77 L267.79,150.24 L267.97,150.71 L268.14,151.18 L268.32,151.65 L268.50,152.12 L268.68,152.59 L268.86,153.05 L269.04,153.52 L269.22,153.99 L269.40,154.46 L269.58,154.93 L269.76,155.40 L269.94,155.86 L270.13,156.33 L270.31,156.80 L270.50,157.26 L270.69,157.73 L270.88,158.19 L271.06,158.66 L271.26,159.12 L271.45,159.59 L271.64,160.05 L271.84,160.51 L272.03,160.97 L272.23,161.43 L272.43,161.89 L272.63,162.35 L272.83,162.81 L273.03,163.27 L273.24,163.73 L273.44,164.19 L273.64,164.65 L273.85,165.11 L274.05,165.57 L274.25,166.03 L274.46,166.49 L274.66,166.95 L274.87,167.40 L275.07,167.86 L275.28,168.32 L275.48,168.78 L275.69,169.24 L275.89,169.70 L276.10,170.16 L276.30,170.62 L276.50,171.08 L276.70,171.53 L276.90,172.00 L277.10,172.46 L277.30,172.92 L277.49,173.38 L277.69,173.85 L277.88,174.31 L278.08,174.78 L278.27,175.24 L278.46,175.71 L278.66,176.17 L278.85,176.64 L279.04,177.10 L279.24,177.57 L279.43,178.03 L279.63,178.49 L279.83,178.96 L280.02,179.42 L280.22,179.88 L280.43,180.34 L280.63,180.80 L280.84,181.25 L281.04,181.71 L281.26,182.16 L281.47,182.62 L281.68,183.07 L281.90,183.52 L282.13,183.96 L282.35,184.41 L282.58,184.85 L282.82,185.29 L283.05,185.73 L283.30,186.17 L283.54,186.60 L283.79,187.04 L284.04,187.47 L284.29,187.90 L284.55,188.33 L284.81,188.76 L285.07,189.19 L285.34,189.62 L285.60,190.05 L285.87,190.47 L286.14,190.90 L286.41,191.32 L286.69,191.75 L286.96,192.17 L287.23,192.59 L287.51,193.01 L287.78,193.44 L288.06,193.86 L288.33,194.28 L288.61,194.70 L288.88,195.12 L289.16,195.54 L289.43,195.97 L289.70,196.39 L289.97,196.81 L290.24,197.24 L290.51,197.67 L290.77,198.09 L291.04,198.52 L291.30,198.95 L291.57,199.38 L291.84,199.81 L292.11,200.23 L292.39,200.65 L292.67,201.06 L292.96,201.47 L293.26,201.87 L293.57,202.26 L293.89,202.68 L294.22,203.15 L294.57,203.63 L294.92,204.07 L295.28,204.45 L295.64,204.70 L296.00,204.80 L296.38,204.69 L296.79,204.40 L297.19,203.99 L297.55,203.53 L297.85,203.09 L298.07,202.68 L298.27,202.25 L298.45,201.79 L298.62,201.31 L298.78,200.82 L298.92,200.31 L299.04,199.81 L299.16,199.30 L299.26,198.81 L299.35,198.32 L299.45,197.83 L299.54,197.34 L299.62,196.85 L299.71,196.36 L299.79,195.86 L299.88,195.37 L299.96,194.87 L300.04,194.38 L300.11,193.88 L300.19,193.38 L300.26,192.88 L300.33,192.38 L300.39,191.88 L300.46,191.38 L300.52,190.88 L300.57,190.38 L300.63,189.87 L300.68,189.37 L300.73,188.87 L300.77,188.37 L300.82,187.87 L300.85,187.36 L300.89,186.86 L300.92,186.36 L300.95,185.86 L300.97,185.36 L300.99,184.85 L301.00,184.35 L301.02,183.85 L301.03,183.35 L301.04,182.85 L301.05,182.35 L301.06,181.85 L301.07,181.35 L301.08,180.85 L301.09,180.34 L301.09,179.84 L301.10,179.34 L301.11,178.84 L301.12,178.34 L301.12,177.83 L301.13,177.33 L301.13,176.83 L301.14,176.33 L301.15,175.82 L301.15,175.32 L301.16,174.82 L301.17,174.32 L301.18,173.81 L301.18,173.31 L301.19,172.81 L301.20,172.31 L301.21,171.80 L301.22,171.30 L301.23,170.80 L301.24,170.30 L301.26,169.80 L301.27,169.30 L301.28,168.79 L301.29,168.29 L301.30,167.79 L301.31,167.29 L301.32,166.79 L301.33,166.28 L301.34,165.78 L301.35,165.28 L301.37,164.78 L301.38,164.28 L301.39,163.77 L301.40,163.27 L301.41,162.77 L301.42,162.27 L301.44,161.77 L301.45,161.26 L301.46,160.76 L301.47,160.26 L301.48,159.76 L301.50,159.26 L301.51,158.76 L301.52,158.25 L301.54,157.75 L301.55,157.25 L301.56,156.75 L301.57,156.25 L301.59,155.74 L301.60,155.24 L301.61,154.74 L301.63,154.24 L301.64,153.74 L301.65,153.23 L301.67,152.73 L301.68,152.23 L301.70,151.73 L301.71,151.23 L301.72,150.72 L301.74,150.22 L301.75,149.72 L301.77,149.22 L301.78,148.72 L301.80,148.22 L301.81,147.71 L301.83,147.21 L301.84,146.71 L301.86,146.21 L301.87,145.71 L301.89,145.20 L301.90,144.70 L301.92,144.20 L301.93,143.70 L301.95,143.20 L301.97,142.70 L301.98,142.19 L302.00,141.69 L302.01,141.19 L302.03,140.69 L302.05,140.19 L302.06,139.69 L302.08,139.18 L302.10,138.68 L302.11,138.18 L302.13,137.68 L302.15,137.18 L302.17,136.67 L302.18,136.17 L302.20,135.67 L302.22,135.17 L302.24,134.67 L302.25,134.17 L302.27,133.66 L302.29,133.16 L302.31,132.66 L302.33,132.16 L302.34,131.66 L302.36,131.16 L302.38,130.66 L302.40,130.15 L302.42,129.65 L302.44,129.15 L302.46,128.65 L302.48,128.15 L302.50,127.65 L302.53,127.14 L302.55,126.64 L302.57,126.14 L302.59,125.64 L302.62,125.14 L302.64,124.64 L302.66,124.14 L302.69,123.63 L302.71,123.13 L302.73,122.63 L302.76,122.13 L302.78,121.63 L302.81,121.13 L302.84,120.63 L302.86,120.12 L302.89,119.62 L302.91,119.12 L302.94,118.62 L302.97,118.12 L302.99,117.62 L303.02,117.12 L303.05,116.61 L303.07,116.11 L303.10,115.61 L303.13,115.11 L303.16,114.61 L303.18,114.11 L303.21,113.61 L303.24,113.11 L303.27,112.60 L303.29,112.10 L303.32,111.60 L303.35,111.10 L303.45,111.10 L303.46,111.60 L303.47,112.10 L303.48,112.61 L303.49,113.11 L303.50,113.61 L303.51,114.11 L303.52,114.61 L303.53,115.12 L303.54,115.62 L303.55,116.12 L303.56,116.62 L303.57,117.12 L303.58,117.63 L303.59,118.13 L303.60,118.63 L303.61,119.13 L303.62,119.63 L303.63,120.14 L303.63,120.64 L303.64,121.14 L303.65,121.64 L303.66,122.15 L303.67,122.65 L303.68,123.15 L303.69,123.65 L303.70,124.15 L303.71,124.66 L303.72,125.16 L303.73,125.66 L303.74,126.16 L303.75,126.66 L303.76,127.17 L303.77,127.67 L303.78,128.17 L303.79,128.67 L303.80,129.17 L303.81,129.68 L303.82,130.18 L303.83,130.68 L303.84,131.18 L303.85,131.68 L303.86,132.19 L303.87,132.69 L303.88,133.19 L303.89,133.69 L303.90,134.19 L303.92,134.70 L303.93,135.20 L303.94,135.70 L303.95,136.20 L303.96,136.70 L303.97,137.21 L303.98,137.71 L303.99,138.21 L304.00,138.71 L304.01,139.21 L304.02,139.72 L304.03,140.22 L304.04,140.72 L304.05,141.22 L304.06,141.72 L304.07,142.23 L304.08,142.73 L304.10,143.23 L304.11,143.73 L304.12,144.23 L304.13,144.74 L304.14,145.24 L304.15,145.74 L304.16,146.24 L304.17,146.74 L304.18,147.25 L304.19,147.75 L304.20,148.25 L304.21,148.75 L304.23,149.26 L304.24,149.76 L304.25,150.26 L304.26,150.76 L304.27,151.26 L304.28,151.77 L304.29,152.27 L304.30,152.77 L304.31,153.27 L304.32,153.77 L304.33,154.28 L304.34,154.78 L304.36,155.28 L304.37,155.78 L304.38,156.28 L304.39,156.79 L304.40,157.29 L304.41,157.79 L304.42,158.29 L304.43,158.79 L304.44,159.30 L304.45,159.80 L304.46,160.30 L304.47,160.80 L304.48,161.30 L304.49,161.81 L304.50,162.31 L304.51,162.81 L304.52,163.31 L304.53,163.81 L304.54,164.32 L304.55,164.82 L304.56,165.32 L304.57,165.82 L304.58,166.32 L304.59,166.83 L304.60,167.33 L304.61,167.83 L304.62,168.33 L304.63,168.83 L304.64,169.34 L304.65,169.84 L304.66,170.34 L304.67,170.84 L304.68,171.34 L304.69,171.85 L304.70,172.35 L304.71,172.85 L304.71,173.35 L304.72,173.86 L304.73,174.36 L304.74,174.86 L304.75,175.36 L304.75,175.86 L304.76,176.37 L304.77,176.87 L304.77,177.37 L304.78,177.87 L304.79,178.37 L304.79,178.88 L304.80,179.38 L304.81,179.88 L304.82,180.38 L304.83,180.89 L304.83,181.39 L304.84,181.89 L304.85,182.39 L304.86,182.89 L304.87,183.40 L304.89,183.90 L304.90,184.40 L304.91,184.90 L304.92,185.40 L304.94,185.90 L304.96,186.41 L304.97,186.91 L304.99,187.41 L305.01,187.91 L305.03,188.41 L305.05,188.92 L305.07,189.42 L305.10,189.92 L305.12,190.42 L305.15,190.92 L305.17,191.43 L305.20,191.93 L305.23,192.43 L305.26,192.93 L305.29,193.43 L305.32,193.94 L305.35,194.44 L305.38,194.94 L305.42,195.44 L305.45,195.94 L305.49,196.44 L305.52,196.94 L305.56,197.45 L305.59,197.95 L305.63,198.45 L305.67,198.95 L305.71,199.45 L305.75,199.95 L305.79,200.45 L305.83,200.95 L305.87,201.45 L305.92,201.95 L305.96,202.45 L306.01,202.95 L306.05,203.45 L306.10,203.95 L306.14,204.44 L306.20,204.94 L306.26,205.44 L306.32,205.94 L306.39,206.43 L306.46,206.93 L306.54,207.43 L306.61,207.93 L306.69,208.42 L306.77,208.92 L306.85,209.41 L306.93,209.91 L307.01,210.41 L307.09,210.90 L307.17,211.40 L307.24,211.90 L307.31,212.39 L307.38,212.89 L307.44,213.39 L307.51,213.89 L307.57,214.39 L307.64,214.89 L307.70,215.38 L307.77,215.88 L307.85,216.38 L307.93,216.87 L308.01,217.37 L308.10,217.86 L308.20,218.35 L308.30,218.85 L308.40,219.34 L308.50,219.83 L308.61,220.32 L308.72,220.81 L308.84,221.30 L308.96,221.79 L309.08,222.28 L309.20,222.76 L309.33,223.25 L309.46,223.73 L309.60,224.21 L309.74,224.70 L309.89,225.18 L310.04,225.66 L310.20,226.14 L310.37,226.61 L310.54,227.09 L310.72,227.56 L310.90,228.02 L311.09,228.48 L311.29,228.94 L311.51,229.39 L311.73,229.84 L311.97,230.28 L312.21,230.72 L312.46,231.16 L312.71,231.60 L312.96,232.04 L313.20,232.48 L313.45,232.92 L313.69,233.35 L313.94,233.79 L314.19,234.23 L314.44,234.66 L314.70,235.09 L314.96,235.53 L315.21,235.96 L315.47,236.39 L315.74,236.82 L316.00,237.24 L316.26,237.67 L316.53,238.09 L316.80,238.52 L317.07,238.94 L317.34,239.36 L317.62,239.78 L317.89,240.20 L318.17,240.63 L318.44,241.05 L318.72,241.47 L319.00,241.88 L319.28,242.30 L319.56,242.72 L319.85,243.13 L320.13,243.55 L320.42,243.96 L320.71,244.37 L321.00,244.78 L321.29,245.19 L321.59,245.60 L321.89,246.00 L322.18,246.41 L322.48,246.81 L322.79,247.21 L323.09,247.60 L323.40,248.00 L323.71,248.39 L324.02,248.78 L324.34,249.16 L324.67,249.54 L325.00,249.92 L325.33,250.30 L325.66,250.68 L326.00,251.05 L326.34,251.42 L326.67,251.80 L327.01,252.17 L327.35,252.54 L327.69,252.91 L328.03,253.28 L328.37,253.66 L328.70,254.03 L329.03,254.41 L329.36,254.79 L329.69,255.17 L330.01,255.55 L330.33,255.94 L330.65,256.33 L330.97,256.72 L331.28,257.11 L331.60,257.50" fill="none" stroke="#ff0000" stroke-width="0.9" stroke-linejoin="round"/><path d="M141.85,257.00 L141.85,256.50 L141.85,256.00 L141.85,255.50 L141.85,254.99 L141.85,254.49 L141.85,253.99 L141.85,253.49 L141.85,252.99 L141.85,252.49 L141.85,251.98 L141.85,251.48 L141.85,250.98 L141.85,250.48 L141.85,249.98 L141.85,249.48 L141.85,248.98 L141.85,248.47 L141.85,247.97 L141.85,247.47 L141.85,246.97 L141.85,246.47 L141.85,245.97 L141.85,245.47 L141.85,244.96 L141.85,244.46 L141.85,243.96 L141.85,243.46 L141.85,242.96 L141.85,242.46 L141.85,241.95 L141.85,241.45 L141.85,240.95 L141.85,240.45 L141.85,239.95 L141.85,239.45 L141.85,238.95 L141.85,238.44 L141.85,237.94 L141.85,237.44 L141.85,236.94 L141.85,236.44 L141.85,235.94 L141.85,235.44 L141.85,234.93 L141.85,234.43 L141.85,233.93 L141.85,233.43 L141.85,232.93 L141.85,232.43 L141.85,231.92 L141.85,231.42 L141.85,230.92 L141.85,230.42 L141.85,229.92 L141.85,229.42 L141.85,228.92 L141.85,228.41 L141.85,227.91 L141.85,227.41 L141.85,226.91 L141.85,226.41 L141.85,225.91 L141.85,225.40 L141.85,224.90 L141.85,224.40 L141.85,223.90 L141.85,223.40 L141.85,222.90 L141.85,222.40 L141.85,221.89 L141.85,221.39 L141.85,220.89 L141.85,220.39 L141.85,219.89 L141.85,219.39 L141.85,218.89 L141.85,218.38 L141.85,217.88 L141.85,217.38 L141.85,216.88 L141.85,216.38 L141.85,215.88 L141.85,215.37 L141.85,214.87 L141.85,214.37 L141.85,213.87 L141.85,213.37 L141.85,212.87 L141.85,212.37 L141.85,211.86 L141.85,211.36 L141.85,210.86 L141.85,210.36 L141.85,209.86 L141.85,209.36 L141.85,208.86 L141.85,208.35 L141.85,207.85 L141.85,207.35 L141.85,206.85 L141.85,206.35 L141.85,205.85 L141.85,205.34 L141.85,204.84 L141.85,204.34 L141.85,203.84 L141.85,203.34 L141.85,202.84 L141.85,202.34 L141.85,201.83 L141.85,201.33 L141.85,200.83 L141.85,200.33 L141.85,199.83 L141.85,199.33 L141.85,198.82 L141.85,198.32 L141.85,197.82 L141.85,197.32 L141.85,196.82 L141.85,196.32 L141.85,195.82 L141.85,195.31 L141.85,194.81 L141.85,194.31 L141.85,193.81 L141.85,193.31 L141.85,192.81 L141.85,192.31 L141.85,191.80 L141.85,191.30 L141.85,190.80 L141.85,190.30 L141.85,189.80 L141.85,189.30 L141.85,188.79 L141.85,188.29 L141.85,187.79 L141.85,187.29 L141.85,186.79 L141.85,186.29 L141.85,185.79 L141.85,185.28 L141.85,184.78 L141.85,184.28 L141.85,183.78 L141.85,183.28 L141.85,182.78 L141.85,182.27 L141.85,181.77 L141.85,181.27 L141.85,180.77 L141.85,180.27 L141.85,179.77 L141.85,179.27 L141.85,178.76 L141.85,178.26 L141.85,177.76 L141.85,177.26 L141.85,176.76 L141.85,176.26 L141.85,175.76 L141.85,175.25 L141.85,174.75 L141.85,174.25 L141.85,173.75 L141.85,173.25 L141.85,172.75 L141.85,172.24 L141.85,171.74 L141.85,171.24 L141.85,170.74 L141.85,170.24 L141.85,169.74 L141.85,169.24 L141.85,168.73 L141.85,168.23 L141.85,167.73 L141.85,167.23 L141.85,166.73 L141.85,166.23 L141.85,165.72 L141.85,165.22 L141.85,164.72 L141.85,164.22 L141.85,163.72 L141.85,163.22 L141.85,162.72 L141.85,162.21 L141.85,161.71 L141.85,161.21 L141.85,160.71 L141.85,160.21 L141.85,159.71 L141.85,159.20 L141.85,158.70 L141.85,158.20 L141.85,157.70 L141.85,157.20 L141.85,156.70 L141.85,156.20 L141.85,155.69 L141.85,155.19 L141.85,154.69 L141.85,154.19 L141.85,153.69 L141.85,153.19 L141.85,152.69 L141.85,152.18 L141.85,151.68 L141.85,151.18 L141.85,150.68 L141.85,150.18 L141.85,149.68 L141.85,149.17 L141.85,148.67 L141.85,148.17 L141.85,147.67 L141.85,147.17 L141.85,146.67 L141.85,146.17 L141.85,145.66 L141.85,145.16 L141.85,144.66 L141.85,144.16 L141.85,143.66 L141.85,143.16 L141.85,142.66 L141.85,142.15 L141.85,141.65 L141.85,141.15 L141.85,140.65 L141.85,140.15 L141.85,139.65 L141.85,139.14 L141.85,138.64 L141.85,138.14 L141.85,137.64 L141.85,137.14 L141.85,136.64 L141.85,136.14 L141.85,135.63 L141.85,135.13 L141.85,134.63 L141.85,134.13 L141.85,133.63 L141.85,133.13 L141.85,132.63 L141.85,132.12 L141.85,131.62 L141.85,131.12 L141.85,130.62 L141.85,130.12 L141.85,129.62 L141.85,129.11 L141.85,128.61 L141.85,128.11 L141.85,127.61 L141.85,127.11 L141.85,126.61 L141.85,126.11 L141.85,125.60 L141.85,125.10 L141.85,124.60 L141.86,124.10 L141.86,123.60 L141.86,123.10 L141.87,122.59 L141.87,122.09 L141.88,121.59 L141.88,121.09 L141.89,120.59 L141.90,120.09 L141.90,119.58 L141.91,119.08 L141.92,118.58 L141.93,118.08 L141.94,117.58 L141.95,117.08 L141.96,116.58 L141.97,116.07 L141.99,115.57 L142.00,115.07 L142.01,114.57 L142.03,114.07 L142.06,113.57 L142.09,113.07 L142.13,112.57 L142.17,112.06 L142.22,111.56 L142.27,111.06 L142.33,110.56 L142.39,110.06 L142.45,109.57 L142.51,109.07 L142.58,108.58 L142.64,108.08 L142.72,107.57 L142.81,107.05 L142.90,106.53 L143.01,106.00 L143.12,105.48 L143.25,104.96 L143.39,104.46 L143.53,103.98 L143.69,103.52 L143.87,103.08 L144.05,102.68 L144.25,102.31 L144.52,101.93 L144.86,101.53 L145.25,101.14 L145.69,100.78 L146.16,100.45 L146.63,100.19 L147.11,100.00 L147.56,99.91 L148.00,99.92 L148.45,99.99 L148.92,100.13 L149.39,100.31 L149.87,100.53 L150.34,100.78 L150.81,101.05 L151.27,101.34 L151.72,101.62 L152.14,101.89 L152.53,102.16 L152.91,102.46 L153.27,102.80 L153.62,103.15 L153.96,103.53 L154.30,103.92 L154.63,104.31 L154.96,104.71 L155.29,105.10 L155.63,105.49 L155.98,105.85 L156.34,106.20 L156.72,106.51 L157.11,106.81 L157.51,107.10 L157.93,107.38 L158.35,107.66 L158.78,107.93 L159.21,108.19 L159.65,108.44 L160.09,108.69 L160.53,108.93 L160.97,109.17 L161.42,109.41 L161.86,109.64 L162.30,109.87 L162.75,110.09 L163.20,110.31 L163.65,110.52 L164.11,110.73 L164.56,110.94 L165.02,111.15 L165.48,111.35 L165.94,111.55 L166.40,111.75 L166.86,111.95 L167.33,112.14 L167.79,112.34 L168.26,112.53 L168.72,112.73 L169.18,112.92 L169.65,113.11 L170.11,113.31 L170.57,113.50 L171.03,113.70 L171.50,113.89 L171.96,114.09 L172.42,114.28 L172.88,114.48 L173.35,114.67 L173.81,114.86 L174.27,115.06 L174.74,115.25 L175.20,115.44 L175.67,115.63 L176.13,115.81 L176.60,116.00 L177.06,116.19 L177.53,116.37 L178.00,116.55 L178.46,116.74 L178.93,116.92 L179.40,117.10 L179.87,117.27 L180.34,117.45 L180.81,117.63 L181.27,117.81 L181.74,117.98 L182.21,118.16 L182.68,118.34 L183.15,118.52 L183.62,118.70 L184.09,118.88 L184.56,119.05 L185.04,119.23 L185.51,119.40 L185.98,119.58 L186.45,119.75 L186.93,119.92 L187.40,120.08 L187.87,120.25 L188.35,120.41 L188.83,120.56 L189.30,120.72 L189.78,120.87 L190.26,121.01 L190.74,121.15 L191.22,121.29 L191.70,121.42 L192.18,121.55 L192.67,121.67 L193.15,121.79 L193.64,121.91 L194.13,122.03 L194.62,122.15 L195.11,122.25 L195.60,122.36 L196.09,122.46 L196.59,122.56 L197.08,122.65 L197.57,122.73 L198.07,122.81 L198.56,122.89 L199.06,122.96 L199.56,123.04 L200.05,123.12 L200.55,123.19 L201.05,123.26 L201.55,123.33 L202.05,123.39 L202.54,123.45 L203.04,123.50 L203.54,123.54 L204.04,123.57 L204.54,123.59 L205.04,123.61 L205.54,123.62 L206.04,123.63 L206.55,123.64 L207.05,123.65 L207.55,123.66 L208.05,123.66 L208.56,123.67 L209.06,123.68 L209.56,123.68 L210.06,123.69 L210.56,123.69 L211.07,123.70 L211.57,123.70 L212.07,123.70 L212.57,123.70 L213.06,123.69 L213.56,123.66 L214.06,123.61 L214.56,123.56 L215.06,123.49 L215.56,123.42 L216.06,123.34 L216.56,123.25 L217.05,123.16 L217.55,123.06 L218.04,122.97 L218.53,122.87 L219.02,122.78 L219.51,122.67 L220.00,122.55 L220.48,122.43 L220.96,122.29 L221.45,122.14 L221.93,121.99 L222.40,121.83 L222.88,121.67 L223.36,121.51 L223.83,121.35 L224.31,121.19 L224.79,121.02 L225.27,120.85 L225.74,120.67 L226.21,120.48 L226.68,120.29 L227.13,120.09 L227.58,119.87 L228.01,119.65 L228.44,119.40 L228.85,119.14 L229.25,118.85 L229.64,118.55 L230.03,118.23 L230.42,117.90 L230.80,117.56 L231.18,117.22 L231.55,116.88 L231.93,116.54 L232.32,116.20 L232.70,115.88 L233.09,115.56 L233.48,115.25 L233.87,114.94 L234.26,114.62 L234.66,114.31 L235.05,113.99 L235.44,113.68 L235.83,113.37 L236.22,113.05 L236.61,112.73 L237.00,112.42 L237.38,112.10 L237.77,111.78 L238.15,111.45 L238.53,111.12 L238.91,110.79 L239.29,110.46 L239.66,110.13 L240.04,109.80 L240.42,109.47 L240.80,109.14 L241.18,108.82 L241.57,108.50 L241.96,108.19 L242.35,107.88 L242.75,107.53 L243.14,107.16 L243.54,106.77 L243.94,106.39 L244.34,106.02 L244.75,105.69 L245.16,105.40 L245.58,105.18 L246.01,105.04 L246.44,105.00 L246.90,105.04 L247.37,105.14 L247.86,105.28 L248.35,105.46 L248.85,105.67 L249.33,105.88 L249.79,106.10 L250.23,106.32 L250.65,106.59 L251.05,106.90 L251.45,107.22 L251.87,107.51 L252.30,107.75 L252.75,107.95 L253.22,108.14 L253.70,108.30 L255.50,97.00 L255.54,97.50 L255.57,98.00 L255.61,98.50 L255.65,99.00 L255.69,99.50 L255.73,100.01 L255.77,100.51 L255.82,101.01 L255.86,101.51 L255.90,102.01 L255.95,102.51 L256.00,103.01 L256.04,103.51 L256.09,104.01 L256.14,104.51 L256.19,105.00 L256.24,105.50 L256.29,106.00 L256.34,106.50 L256.40,107.00 L256.45,107.50 L256.50,108.00 L256.56,108.50 L256.61,109.00 L256.67,109.50 L256.72,110.00 L256.78,110.49 L256.83,110.99 L256.89,111.49 L256.95,111.99 L257.00,112.49 L257.06,112.99 L257.12,113.49 L257.18,113.99 L257.24,114.49 L257.31,114.99 L257.38,115.49 L257.45,115.98 L257.52,116.48 L257.60,116.98 L257.67,117.47 L257.76,117.96 L257.85,118.45 L257.94,118.94 L258.04,119.43 L258.15,119.92 L258.26,120.41 L258.38,120.90 L258.51,121.39 L258.64,121.88 L258.77,122.36 L258.91,122.85 L259.05,123.33 L259.19,123.81 L259.34,124.30 L259.49,124.78 L259.64,125.26 L259.79,125.74 L259.94,126.21 L260.10,126.69 L260.25,127.16 L260.42,127.63 L260.59,128.11 L260.77,128.57 L260.96,129.04 L261.14,129.51 L261.33,129.97 L261.53,130.44 L261.72,130.90 L261.92,131.36 L262.11,131.83 L262.30,132.29 L262.49,132.76 L262.68,133.23 L262.86,133.69 L263.04,134.16 L263.21,134.63 L263.39,135.10 L263.56,135.57 L263.73,136.05 L263.90,136.52 L264.07,136.99 L264.24,137.46 L264.41,137.94 L264.58,138.41 L264.75,138.88 L264.92,139.36 L265.08,139.83 L265.25,140.30 L265.42,140.78 L265.59,141.25 L265.75,141.72 L265.92,142.20 L266.09,142.67 L266.26,143.14 L266.43,143.61 L266.60,144.09 L266.77,144.56 L266.94,145.03 L267.12,145.50 L267.29,145.97 L267.46,146.44 L267.64,146.91 L267.81,147.38 L267.99,147.85 L268.16,148.32 L268.34,148.80 L268.52,149.27 L268.69,149.74 L268.87,150.21 L269.04,150.68 L269.22,151.15 L269.40,151.62 L269.58,152.09 L269.76,152.55 L269.94,153.02 L270.12,153.49 L270.30,153.96 L270.48,154.43 L270.66,154.90 L270.84,155.36 L271.03,155.83 L271.21,156.30 L271.40,156.76 L271.59,157.23 L271.78,157.69 L271.96,158.16 L272.16,158.62 L272.35,159.09 L272.54,159.55 L272.74,160.01 L272.93,160.47 L273.13,160.93 L273.33,161.39 L273.53,161.85 L273.73,162.31 L273.93,162.77 L274.14,163.23 L274.34,163.69 L274.54,164.15 L274.75,164.61 L274.95,165.07 L275.15,165.53 L275.36,165.99 L275.56,166.45 L275.77,166.90 L275.97,167.36 L276.18,167.82 L276.38,168.28 L276.59,168.74 L276.79,169.20 L277.00,169.66 L277.20,170.12 L277.40,170.58 L277.60,171.03 L277.80,171.50 L278.00,171.96 L278.20,172.42 L278.39,172.88 L278.59,173.35 L278.78,173.81 L278.98,174.28 L279.17,174.74 L279.36,175.21 L279.56,175.67 L279.75,176.14 L279.94,176.60 L280.14,177.07 L280.33,177.53 L280.53,177.99 L280.73,178.46 L280.92,178.92 L281.12,179.38 L281.33,179.84 L281.53,180.30 L281.74,180.75 L281.94,181.21 L282.16,181.66 L282.37,182.12 L282.58,182.57 L282.80,183.02 L283.03,183.46 L283.25,183.91 L283.48,184.35 L283.72,184.79 L283.95,185.23 L284.20,185.67 L284.44,186.10 L284.69,186.54 L284.94,186.97 L285.19,187.40 L285.45,187.83 L285.71,188.26 L285.97,188.69 L286.24,189.12 L286.50,189.55 L286.77,189.97 L287.04,190.40 L287.31,190.82 L287.59,191.25 L287.86,191.67 L288.13,192.09 L288.41,192.51 L288.68,192.94 L288.96,193.36 L289.23,193.78 L289.51,194.20 L289.78,194.62 L290.06,195.04 L290.33,195.47 L290.60,195.89 L290.87,196.31 L291.14,196.74 L291.41,197.17 L291.67,197.59 L291.94,198.02 L292.20,198.45 L292.47,198.88 L292.74,199.31 L293.01,199.73 L293.29,200.15 L293.57,200.56 L293.86,200.97 L294.16,201.37 L294.47,201.76 L294.79,202.18 L295.12,202.65 L295.47,203.13 L295.82,203.57 L296.18,203.95 L296.54,204.20 L296.90,204.30 L297.28,204.19 L297.69,203.90 L298.09,203.49 L298.45,203.03 L298.75,202.59 L298.97,202.18 L299.17,201.75 L299.35,201.29 L299.52,200.81 L299.68,200.32 L299.82,199.81 L299.94,199.31 L300.06,198.80 L300.16,198.31 L300.25,197.82 L300.35,197.33 L300.44,196.84 L300.52,196.35 L300.61,195.86 L300.69,195.36 L300.78,194.87 L300.86,194.37 L300.94,193.88 L301.01,193.38 L301.09,192.88 L301.16,192.38 L301.23,191.88 L301.29,191.38 L301.36,190.88 L301.42,190.38 L301.47,189.88 L301.53,189.37 L301.58,188.87 L301.63,188.37 L301.67,187.87 L301.72,187.37 L301.75,186.86 L301.79,186.36 L301.82,185.86 L301.85,185.36 L301.87,184.86 L301.89,184.35 L301.90,183.85 L301.92,183.35 L301.93,182.85 L301.94,182.35 L301.95,181.85 L301.96,181.35 L301.97,180.85 L301.98,180.35 L301.99,179.84 L301.99,179.34 L302.00,178.84 L302.01,178.34 L302.02,177.84 L302.02,177.33 L302.03,176.83 L302.03,176.33 L302.04,175.83 L302.05,175.32 L302.05,174.82 L302.06,174.32 L302.07,173.82 L302.08,173.31 L302.08,172.81 L302.09,172.31 L302.10,171.81 L302.11,171.30 L302.12,170.80 L302.13,170.30 L302.14,169.80 L302.16,169.30 L302.17,168.80 L302.18,168.29 L302.19,167.79 L302.20,167.29 L302.21,166.79 L302.22,166.29 L302.23,165.78 L302.24,165.28 L302.25,164.78 L302.27,164.28 L302.28,163.78 L302.29,163.27 L302.30,162.77 L302.31,162.27 L302.32,161.77 L302.34,161.27 L302.35,160.76 L302.36,160.26 L302.37,159.76 L302.38,159.26 L302.40,158.76 L302.41,158.26 L302.42,157.75 L302.44,157.25 L302.45,156.75 L302.46,156.25 L302.47,155.75 L302.49,155.24 L302.50,154.74 L302.51,154.24 L302.53,153.74 L302.54,153.24 L302.55,152.73 L302.57,152.23 L302.58,151.73 L302.60,151.23 L302.61,150.73 L302.62,150.22 L302.64,149.72 L302.65,149.22 L302.67,148.72 L302.68,148.22 L302.70,147.72 L302.71,147.21 L302.73,146.71 L302.74,146.21 L302.76,145.71 L302.77,145.21 L302.79,144.70 L302.80,144.20 L302.82,143.70 L302.83,143.20 L302.85,142.70 L302.87,142.20 L302.88,141.69 L302.90,141.19 L302.91,140.69 L302.93,140.19 L302.95,139.69 L302.96,139.19 L302.98,138.68 L303.00,138.18 L303.01,137.68 L303.03,137.18 L303.05,136.68 L303.07,136.17 L303.08,135.67 L303.10,135.17 L303.12,134.67 L303.14,134.17 L303.15,133.67 L303.17,133.16 L303.19,132.66 L303.21,132.16 L303.23,131.66 L303.24,131.16 L303.26,130.66 L303.28,130.16 L303.30,129.65 L303.32,129.15 L303.34,128.65 L303.36,128.15 L303.38,127.65 L303.40,127.15 L303.43,126.64 L303.45,126.14 L303.47,125.64 L303.49,125.14 L303.52,124.64 L303.54,124.14 L303.56,123.64 L303.59,123.13 L303.61,122.63 L303.63,122.13 L303.66,121.63 L303.68,121.13 L303.71,120.63 L303.74,120.13 L303.76,119.62 L303.79,119.12 L303.81,118.62 L303.84,118.12 L303.87,117.62 L303.89,117.12 L303.92,116.62 L303.95,116.11 L303.97,115.61 L304.00,115.11 L304.03,114.61 L304.06,114.11 L304.08,113.61 L304.11,113.11 L304.14,112.61 L304.17,112.10 L304.19,111.60 L304.22,111.10 L304.25,110.60 L304.35,110.60 L304.36,111.10 L304.37,111.60 L304.38,112.11 L304.39,112.61 L304.40,113.11 L304.41,113.61 L304.42,114.11 L304.43,114.62 L304.44,115.12 L304.45,115.62 L304.46,116.12 L304.47,116.62 L304.48,117.13 L304.49,117.63 L304.50,118.13 L304.51,118.63 L304.52,119.13 L304.53,119.64 L304.53,120.14 L304.54,120.64 L304.55,121.14 L304.56,121.65 L304.57,122.15 L304.58,122.65 L304.59,123.15 L304.60,123.65 L304.61,124.16 L304.62,124.66 L304.63,125.16 L304.64,125.66 L304.65,126.16 L304.66,126.67 L304.67,127.17 L304.68,127.67 L304.69,128.17 L304.70,128.67 L304.71,129.18 L304.72,129.68 L304.73,130.18 L304.74,130.68 L304.75,131.18 L304.76,131.69 L304.77,132.19 L304.78,132.69 L304.79,133.19 L304.80,133.69 L304.82,134.20 L304.83,134.70 L304.84,135.20 L304.85,135.70 L304.86,136.20 L304.87,136.71 L304.88,137.21 L304.89,137.71 L304.90,138.21 L304.91,138.71 L304.92,139.22 L304.93,139.72 L304.94,140.22 L304.95,140.72 L304.96,141.22 L304.97,141.73 L304.98,142.23 L305.00,142.73 L305.01,143.23 L305.02,143.73 L305.03,144.24 L305.04,144.74 L305.05,145.24 L305.06,145.74 L305.07,146.24 L305.08,146.75 L305.09,147.25 L305.10,147.75 L305.11,148.25 L305.13,148.76 L305.14,149.26 L305.15,149.76 L305.16,150.26 L305.17,150.76 L305.18,151.27 L305.19,151.77 L305.20,152.27 L305.21,152.77 L305.22,153.27 L305.23,153.78 L305.24,154.28 L305.26,154.78 L305.27,155.28 L305.28,155.78 L305.29,156.29 L305.30,156.79 L305.31,157.29 L305.32,157.79 L305.33,158.29 L305.34,158.80 L305.35,159.30 L305.36,159.80 L305.37,160.30 L305.38,160.80 L305.39,161.31 L305.40,161.81 L305.41,162.31 L305.42,162.81 L305.43,163.31 L305.44,163.82 L305.45,164.32 L305.46,164.82 L305.47,165.32 L305.48,165.82 L305.49,166.33 L305.50,166.83 L305.51,167.33 L305.52,167.83 L305.53,168.33 L305.54,168.84 L305.55,169.34 L305.56,169.84 L305.57,170.34 L305.58,170.84 L305.59,171.35 L305.60,171.85 L305.61,172.35 L305.61,172.85 L305.62,173.36 L305.63,173.86 L305.64,174.36 L305.65,174.86 L305.65,175.36 L305.66,175.87 L305.67,176.37 L305.67,176.87 L305.68,177.37 L305.69,177.87 L305.69,178.38 L305.70,178.88 L305.71,179.38 L305.72,179.88 L305.73,180.39 L305.73,180.89 L305.74,181.39 L305.75,181.89 L305.76,182.39 L305.77,182.90 L305.79,183.40 L305.80,183.90 L305.81,184.40 L305.82,184.90 L305.84,185.40 L305.86,185.91 L305.87,186.41 L305.89,186.91 L305.91,187.41 L305.93,187.91 L305.95,188.42 L305.97,188.92 L306.00,189.42 L306.02,189.92 L306.05,190.42 L306.07,190.93 L306.10,191.43 L306.13,191.93 L306.16,192.43 L306.19,192.93 L306.22,193.44 L306.25,193.94 L306.28,194.44 L306.32,194.94 L306.35,195.44 L306.39,195.94 L306.42,196.44 L306.46,196.95 L306.49,197.45 L306.53,197.95 L306.57,198.45 L306.61,198.95 L306.65,199.45 L306.69,199.95 L306.73,200.45 L306.77,200.95 L306.82,201.45 L306.86,201.95 L306.91,202.45 L306.95,202.95 L307.00,203.45 L307.04,203.94 L307.10,204.44 L307.16,204.94 L307.22,205.44 L307.29,205.93 L307.36,206.43 L307.44,206.93 L307.51,207.43 L307.59,207.92 L307.67,208.42 L307.75,208.91 L307.83,209.41 L307.91,209.91 L307.99,210.40 L308.07,210.90 L308.14,211.40 L308.21,211.89 L308.28,212.39 L308.34,212.89 L308.41,213.39 L308.47,213.89 L308.54,214.39 L308.60,214.88 L308.67,215.38 L308.75,215.88 L308.83,216.37 L308.91,216.87 L309.00,217.36 L309.10,217.85 L309.20,218.35 L309.30,218.84 L309.40,219.33 L309.51,219.82 L309.62,220.31 L309.74,220.80 L309.86,221.29 L309.98,221.78 L310.10,222.26 L310.23,222.75 L310.36,223.23 L310.50,223.71 L310.64,224.20 L310.79,224.68 L310.94,225.16 L311.10,225.64 L311.27,226.11 L311.44,226.59 L311.62,227.06 L311.80,227.52 L311.99,227.98 L312.19,228.44 L312.41,228.89 L312.63,229.34 L312.87,229.78 L313.11,230.22 L313.36,230.66 L313.61,231.10 L313.86,231.54 L314.10,231.98 L314.35,232.42 L314.59,232.85 L314.84,233.29 L315.09,233.73 L315.34,234.16 L315.60,234.59 L315.86,235.03 L316.11,235.46 L316.37,235.89 L316.64,236.32 L316.90,236.74 L317.16,237.17 L317.43,237.59 L317.70,238.02 L317.97,238.44 L318.24,238.86 L318.52,239.28 L318.79,239.70 L319.07,240.13 L319.34,240.55 L319.62,240.97 L319.90,241.38 L320.18,241.80 L320.46,242.22 L320.75,242.63 L321.03,243.05 L321.32,243.46 L321.61,243.87 L321.90,244.28 L322.19,244.69 L322.49,245.10 L322.79,245.50 L323.08,245.91 L323.38,246.31 L323.69,246.71 L323.99,247.10 L324.30,247.50 L324.61,247.89 L324.92,248.28 L325.24,248.66 L325.57,249.04 L325.90,249.42 L326.23,249.80 L326.56,250.18 L326.90,250.55 L327.24,250.92 L327.57,251.30 L327.91,251.67 L328.25,252.04 L328.59,252.41 L328.93,252.78 L329.27,253.16 L329.60,253.53 L329.93,253.91 L330.26,254.29 L330.59,254.67 L330.91,255.05 L331.23,255.44 L331.55,255.83 L331.87,256.22 L332.18,256.61 L332.50,257.00" fill="none" stroke="#000" stroke-width="2.3" stroke-linejoin="miter" stroke-miterlimit="10" stroke-linecap="butt"/></g>
<path d="M348.0,27.6 H384.0" stroke="#0000ff" stroke-width="0.65"/>
<circle cx="365.9" cy="42.0" r="1.2" fill="#ff00ff" fill-opacity="0.75"/>
<circle cx="366.0" cy="56.2" r="0.75" fill="#ff0000"/>
<path d="M348.0,70.5 H384.0" stroke="#ff0000" stroke-width="0.7"/>
<path d="M348.0,84.6 H384.0" stroke="#000" stroke-width="2.0"/>
<g font-family="Liberation Sans, sans-serif" font-size="14" fill="#000" filter="url(#gs)"><text transform="translate(339.40,32.20) scale(1.007,1.045)" text-anchor="end">Res. Gas</text><text transform="translate(339.40,45.70) scale(1.007,1.045)" text-anchor="end"><tspan font-family="Liberation Serif" font-size="14">Π</tspan><tspan font-size="11.2" dy="4.2">V</tspan></text><text transform="translate(339.40,59.90) scale(1.007,1.045)" text-anchor="end"><tspan font-family="Liberation Serif" font-size="14">Π</tspan><tspan font-size="11.2" dy="4.2">A</tspan></text><text transform="translate(339.40,74.60) scale(1.007,1.045)" text-anchor="end">Mesons</text><text transform="translate(339.40,88.80) scale(1.007,1.045)" text-anchor="end">Mesons + Nucleons</text><text transform="translate(99.58,274.60) scale(1.007,1.045)" text-anchor="middle">0</text><text transform="translate(139.95,274.60) scale(1.007,1.045)" text-anchor="middle">0.2</text><text transform="translate(180.32,274.60) scale(1.007,1.045)" text-anchor="middle">0.4</text><text transform="translate(220.70,274.60) scale(1.007,1.045)" text-anchor="middle">0.6</text><text transform="translate(261.07,274.60) scale(1.007,1.045)" text-anchor="middle">0.8</text><text transform="translate(301.45,274.60) scale(1.007,1.045)" text-anchor="middle">1</text><text transform="translate(341.82,274.60) scale(1.007,1.045)" text-anchor="middle">1.2</text><text transform="translate(382.20,274.60) scale(1.007,1.045)" text-anchor="middle">1.4</text><text transform="translate(89.30,23.40) scale(1.007,1.045)" text-anchor="end">10<tspan font-size="11.2" dy="-6.5">-5</tspan></text><text transform="translate(89.30,95.60) scale(1.007,1.045)" text-anchor="end">10<tspan font-size="11.2" dy="-6.5">-6</tspan></text><text transform="translate(89.30,167.80) scale(1.007,1.045)" text-anchor="end">10<tspan font-size="11.2" dy="-6.5">-7</tspan></text><text transform="translate(89.30,240.00) scale(1.007,1.045)" text-anchor="end">10<tspan font-size="11.2" dy="-6.5">-8</tspan></text><text transform="translate(249.30,294.50) scale(1.007,1.045)" text-anchor="middle">M (GeV)</text><text transform="translate(20.40,136.00) rotate(-90) scale(1.018,1.045)" text-anchor="middle">dR/dM<tspan font-size="11.2" dy="-6.9">2</tspan><tspan dy="6.9"> (fm</tspan><tspan font-size="11.2" dy="-6.9">-4</tspan><tspan dy="6.9"> GeV</tspan><tspan font-size="11.2" dy="-6.9">-2</tspan><tspan dy="6.9">)</tspan></text></g>
</svg>
</body></html>
